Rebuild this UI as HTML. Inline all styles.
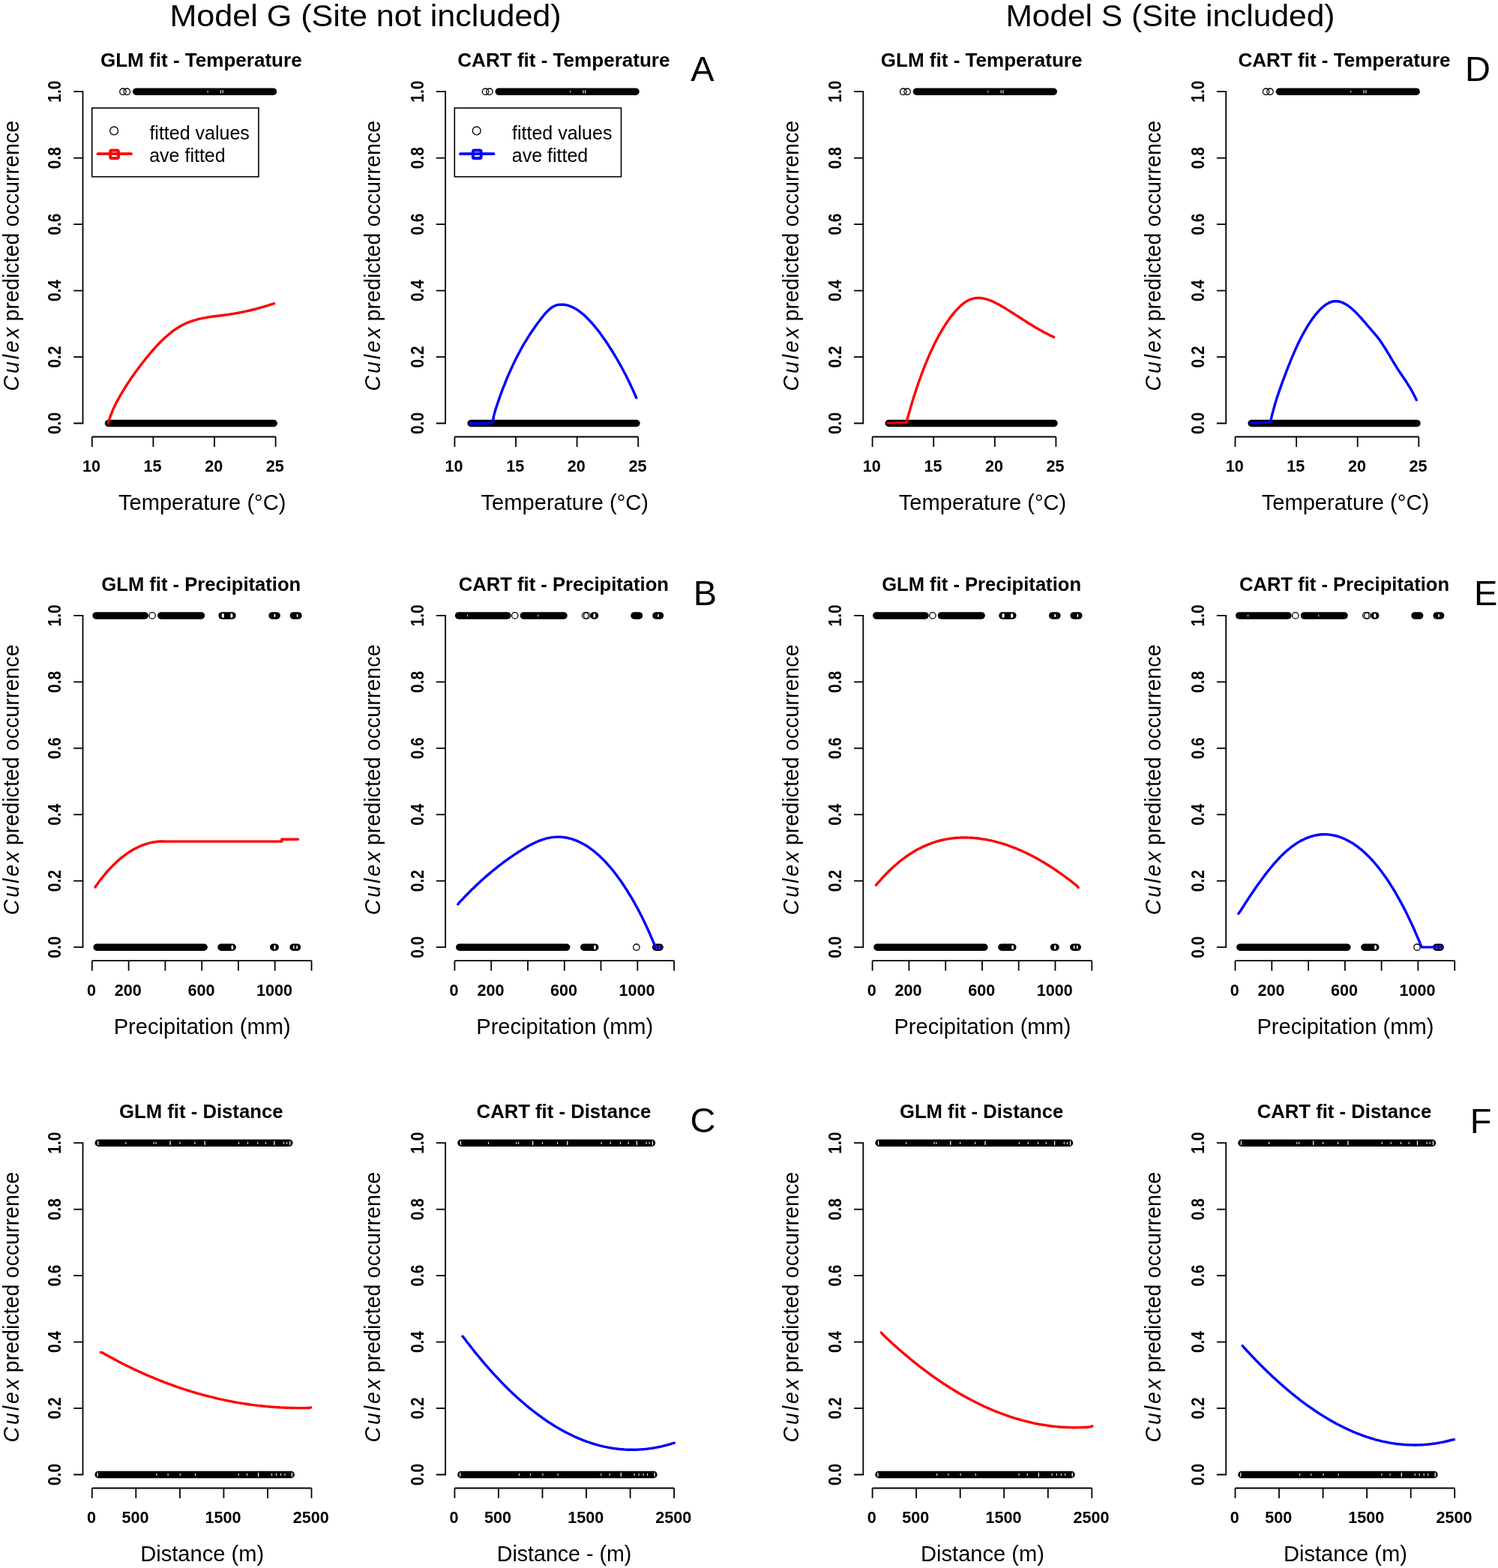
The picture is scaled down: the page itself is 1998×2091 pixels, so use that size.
<!DOCTYPE html>
<html><head><meta charset="utf-8"><title>Model G vs Model S</title>
<style>html,body{margin:0;padding:0;background:#fff;width:1998px;height:2091px;overflow:hidden}</style>
</head><body>
<svg width="1998" height="2091" viewBox="0 0 1998 2091" style="display:block">
<rect width="1998" height="2091" fill="#fff"/>
<text x="226.4" y="35.2" font-family='"Liberation Sans", sans-serif' font-size="41" textLength="522.3" lengthAdjust="spacingAndGlyphs">Model G (Site not included)</text>
<text x="1341.4" y="35.2" font-family='"Liberation Sans", sans-serif' font-size="41" textLength="439" lengthAdjust="spacingAndGlyphs">Model S (Site included)</text>
<text x="921.3" y="108.2" font-family='"Liberation Sans", sans-serif' font-size="47">A</text>
<text x="924.8" y="807.2" font-family='"Liberation Sans", sans-serif' font-size="47">B</text>
<text x="920.4" y="1509.8" font-family='"Liberation Sans", sans-serif' font-size="47">C</text>
<text x="1954.1" y="108.2" font-family='"Liberation Sans", sans-serif' font-size="47">D</text>
<text x="1966" y="807.3" font-family='"Liberation Sans", sans-serif' font-size="47">E</text>
<text x="1960.7" y="1510.5" font-family='"Liberation Sans", sans-serif' font-size="47">F</text>
<g font-family='"Liberation Sans", sans-serif' fill="#000"><text x="268.3" y="89.4" text-anchor="middle" font-weight="bold" font-size="26.05">GLM fit - Temperature</text><path d="M98.2,122.2 H110.5 V564.5 H98.2" fill="none" stroke="#000" stroke-width="1.8"/><path d="M98.2,210.7 H110.5" stroke="#000" stroke-width="1.8"/><path d="M98.2,299.1 H110.5" stroke="#000" stroke-width="1.8"/><path d="M98.2,387.6 H110.5" stroke="#000" stroke-width="1.8"/><path d="M98.2,476.0 H110.5" stroke="#000" stroke-width="1.8"/><text transform="translate(80.9,564.5) rotate(-90) scale(1,1.16)" text-anchor="middle" font-weight="bold" font-size="20.9">0.0</text><text transform="translate(80.9,476.0) rotate(-90) scale(1,1.16)" text-anchor="middle" font-weight="bold" font-size="20.9">0.2</text><text transform="translate(80.9,387.6) rotate(-90) scale(1,1.16)" text-anchor="middle" font-weight="bold" font-size="20.9">0.4</text><text transform="translate(80.9,299.1) rotate(-90) scale(1,1.16)" text-anchor="middle" font-weight="bold" font-size="20.9">0.6</text><text transform="translate(80.9,210.7) rotate(-90) scale(1,1.16)" text-anchor="middle" font-weight="bold" font-size="20.9">0.8</text><text transform="translate(80.9,122.2) rotate(-90) scale(1,1.16)" text-anchor="middle" font-weight="bold" font-size="20.9">1.0</text><text transform="translate(24.6,521.6) rotate(-90)" font-size="28.6" font-style="italic" textLength="84.8" lengthAdjust="spacing">Culex</text><text transform="translate(24.6,428.5) rotate(-90)" font-size="28.6" textLength="267.8" lengthAdjust="spacingAndGlyphs">predicted occurrence</text><path d="M122.8,582.5 H367.6" stroke="#000" stroke-width="1.8" fill="none"/><path d="M122.8,582.5 V595.9" stroke="#000" stroke-width="1.8"/><text x="122.0" y="629.1" text-anchor="middle" font-weight="bold" font-size="21.6">10</text><path d="M204.4,582.5 V595.9" stroke="#000" stroke-width="1.8"/><text x="203.6" y="629.1" text-anchor="middle" font-weight="bold" font-size="21.6">15</text><path d="M286.0,582.5 V595.9" stroke="#000" stroke-width="1.8"/><text x="285.2" y="629.1" text-anchor="middle" font-weight="bold" font-size="21.6">20</text><path d="M367.6,582.5 V595.9" stroke="#000" stroke-width="1.8"/><text x="366.8" y="629.1" text-anchor="middle" font-weight="bold" font-size="21.6">25</text><text x="269.7" y="680.3" text-anchor="middle" font-size="29.1">Temperature (°C)</text><path d="M181.7,122.2 H364.4" stroke="#000" stroke-width="9.5" stroke-linecap="round"/><circle cx="163.9" cy="122.2" r="4.2" fill="none" stroke="#000" stroke-width="1.3"/><circle cx="169.3" cy="122.2" r="4.2" fill="none" stroke="#000" stroke-width="1.3"/><ellipse cx="277.1" cy="122.2" rx="0.5" ry="1.6" fill="#fff"/><ellipse cx="294.4" cy="122.2" rx="0.6" ry="2.8" fill="#fff"/><ellipse cx="297.2" cy="122.2" rx="0.6" ry="2.8" fill="#fff"/><path d="M144.6,564.5 H365.2" stroke="#000" stroke-width="9.5" stroke-linecap="round"/><path d="M144.4,564.3 L146.4,557.1 L148.5,551.8 L150.5,546.9 L152.5,542.4 L154.5,538.3 L156.6,534.4 L158.6,530.7 L160.6,527.1 L162.7,523.6 L164.7,520.3 L166.7,517.0 L168.8,513.8 L170.8,510.7 L172.8,507.6 L174.8,504.6 L176.9,501.7 L178.9,498.8 L180.9,496.0 L183.0,493.3 L185.0,490.5 L187.0,487.8 L189.0,485.2 L191.1,482.5 L193.1,480.0 L195.1,477.4 L197.2,474.9 L199.2,472.5 L201.2,470.1 L203.3,467.7 L205.3,465.4 L207.3,463.1 L209.3,460.9 L211.4,458.8 L213.4,456.7 L215.4,454.7 L217.5,452.7 L219.5,450.8 L221.5,449.0 L223.5,447.2 L225.6,445.5 L227.6,443.8 L229.6,442.2 L231.7,440.7 L233.7,439.3 L235.7,438.0 L237.8,436.7 L239.8,435.5 L241.8,434.3 L243.8,433.3 L245.9,432.3 L247.9,431.3 L249.9,430.4 L252.0,429.6 L254.0,428.8 L256.0,428.1 L258.0,427.5 L260.1,426.8 L262.1,426.3 L264.1,425.7 L266.2,425.2 L268.2,424.8 L270.2,424.3 L272.2,423.9 L274.3,423.6 L276.3,423.2 L278.3,422.9 L280.4,422.6 L282.4,422.3 L284.4,422.0 L286.5,421.7 L288.5,421.5 L290.5,421.2 L292.5,421.0 L294.6,420.7 L296.6,420.5 L298.6,420.2 L300.7,419.9 L302.7,419.7 L304.7,419.4 L306.7,419.1 L308.8,418.8 L310.8,418.4 L312.8,418.1 L314.9,417.7 L316.9,417.4 L318.9,417.0 L321.0,416.6 L323.0,416.2 L325.0,415.8 L327.0,415.4 L329.1,414.9 L331.1,414.5 L333.1,414.0 L335.2,413.5 L337.2,413.0 L339.2,412.5 L341.2,412.0 L343.3,411.4 L345.3,410.9 L347.3,410.3 L349.4,409.7 L351.4,409.2 L353.4,408.5 L355.5,407.9 L357.5,407.3 L359.5,406.6 L361.5,406.0 L363.6,405.3 L365.6,404.8" fill="none" stroke="#ff0000" stroke-width="3.4" stroke-linejoin="round" stroke-linecap="round"/><rect x="122.7" y="144" width="222.2" height="91.7" fill="none" stroke="#000" stroke-width="1.6"/><circle cx="152.1" cy="174.4" r="5.4" fill="none" stroke="#000" stroke-width="1.3"/><path d="M130.5,205.2 H174.9" stroke="#ff0000" stroke-width="3.8" stroke-linecap="round"/><rect x="147.2" y="200.40" width="10.7" height="10.7" rx="1.5" fill="none" stroke="#ff0000" stroke-width="4"/><text x="199.4" y="185.5" font-size="25">fitted values</text><text x="199.2" y="215.6" font-size="25">ave fitted</text></g>
<g font-family='"Liberation Sans", sans-serif' fill="#000"><text x="751.9" y="89.4" text-anchor="middle" font-weight="bold" font-size="26.05">CART fit - Temperature</text><path d="M581.8,122.2 H594.1 V564.5 H581.8" fill="none" stroke="#000" stroke-width="1.8"/><path d="M581.8,210.7 H594.1" stroke="#000" stroke-width="1.8"/><path d="M581.8,299.1 H594.1" stroke="#000" stroke-width="1.8"/><path d="M581.8,387.6 H594.1" stroke="#000" stroke-width="1.8"/><path d="M581.8,476.0 H594.1" stroke="#000" stroke-width="1.8"/><text transform="translate(564.5,564.5) rotate(-90) scale(1,1.16)" text-anchor="middle" font-weight="bold" font-size="20.9">0.0</text><text transform="translate(564.5,476.0) rotate(-90) scale(1,1.16)" text-anchor="middle" font-weight="bold" font-size="20.9">0.2</text><text transform="translate(564.5,387.6) rotate(-90) scale(1,1.16)" text-anchor="middle" font-weight="bold" font-size="20.9">0.4</text><text transform="translate(564.5,299.1) rotate(-90) scale(1,1.16)" text-anchor="middle" font-weight="bold" font-size="20.9">0.6</text><text transform="translate(564.5,210.7) rotate(-90) scale(1,1.16)" text-anchor="middle" font-weight="bold" font-size="20.9">0.8</text><text transform="translate(564.5,122.2) rotate(-90) scale(1,1.16)" text-anchor="middle" font-weight="bold" font-size="20.9">1.0</text><text transform="translate(506.6,521.6) rotate(-90)" font-size="28.6" font-style="italic" textLength="84.8" lengthAdjust="spacing">Culex</text><text transform="translate(506.6,428.5) rotate(-90)" font-size="28.6" textLength="267.8" lengthAdjust="spacingAndGlyphs">predicted occurrence</text><path d="M606.4,582.5 H851.2" stroke="#000" stroke-width="1.8" fill="none"/><path d="M606.4,582.5 V595.9" stroke="#000" stroke-width="1.8"/><text x="605.6" y="629.1" text-anchor="middle" font-weight="bold" font-size="21.6">10</text><path d="M688.0,582.5 V595.9" stroke="#000" stroke-width="1.8"/><text x="687.2" y="629.1" text-anchor="middle" font-weight="bold" font-size="21.6">15</text><path d="M769.6,582.5 V595.9" stroke="#000" stroke-width="1.8"/><text x="768.8" y="629.1" text-anchor="middle" font-weight="bold" font-size="21.6">20</text><path d="M851.2,582.5 V595.9" stroke="#000" stroke-width="1.8"/><text x="850.4" y="629.1" text-anchor="middle" font-weight="bold" font-size="21.6">25</text><text x="753.3" y="680.3" text-anchor="middle" font-size="29.1">Temperature (°C)</text><path d="M665.2,122.2 H848.0" stroke="#000" stroke-width="9.5" stroke-linecap="round"/><circle cx="647.5" cy="122.2" r="4.2" fill="none" stroke="#000" stroke-width="1.3"/><circle cx="652.9" cy="122.2" r="4.2" fill="none" stroke="#000" stroke-width="1.3"/><ellipse cx="760.7" cy="122.2" rx="0.5" ry="1.6" fill="#fff"/><ellipse cx="778.0" cy="122.2" rx="0.6" ry="2.8" fill="#fff"/><ellipse cx="780.8" cy="122.2" rx="0.6" ry="2.8" fill="#fff"/><path d="M628.1,564.5 H848.9" stroke="#000" stroke-width="9.5" stroke-linecap="round"/><path d="M627.6,564.8 L656.7,564.3 L658.7,554.4 L660.7,546.9 L662.8,540.6 L664.8,534.6 L666.8,528.8 L668.8,523.3 L670.8,517.9 L672.9,512.8 L674.9,507.7 L676.9,502.9 L678.9,498.2 L681.0,493.6 L683.0,489.2 L685.0,484.9 L687.0,480.7 L689.0,476.7 L691.1,472.8 L693.1,469.0 L695.1,465.3 L697.1,461.7 L699.1,458.2 L701.2,454.8 L703.2,451.6 L705.2,448.3 L707.2,445.2 L709.2,442.2 L711.3,439.2 L713.3,436.3 L715.3,433.5 L717.3,430.7 L719.4,428.0 L721.4,425.3 L723.4,422.7 L725.4,420.2 L727.4,417.9 L729.5,415.7 L731.5,413.7 L733.5,411.9 L735.5,410.3 L737.5,409.0 L739.6,408.0 L741.6,407.2 L743.6,406.7 L745.6,406.3 L747.6,406.2 L749.7,406.1 L751.7,406.3 L753.7,406.5 L755.7,406.9 L757.8,407.4 L759.8,408.1 L761.8,408.9 L763.8,409.8 L765.8,410.8 L767.9,411.9 L769.9,413.2 L771.9,414.6 L773.9,416.0 L775.9,417.6 L778.0,419.3 L780.0,421.1 L782.0,423.0 L784.0,425.0 L786.0,427.1 L788.1,429.3 L790.1,431.5 L792.1,433.9 L794.1,436.3 L796.2,438.8 L798.2,441.4 L800.2,444.1 L802.2,446.9 L804.2,449.7 L806.3,452.6 L808.3,455.5 L810.3,458.5 L812.3,461.6 L814.3,464.8 L816.4,468.0 L818.4,471.3 L820.4,474.6 L822.4,478.0 L824.4,481.5 L826.5,485.1 L828.5,488.8 L830.5,492.5 L832.5,496.3 L834.6,500.2 L836.6,504.2 L838.6,508.3 L840.6,512.5 L842.6,516.8 L844.7,521.2 L846.7,525.7 L848.7,530.5" fill="none" stroke="#0000ff" stroke-width="3.4" stroke-linejoin="round" stroke-linecap="round"/><rect x="606.3" y="144" width="222.2" height="91.7" fill="none" stroke="#000" stroke-width="1.6"/><circle cx="635.7" cy="174.4" r="5.4" fill="none" stroke="#000" stroke-width="1.3"/><path d="M614.1,205.2 H658.5" stroke="#0000ff" stroke-width="3.8" stroke-linecap="round"/><rect x="630.9" y="200.40" width="10.7" height="10.7" rx="1.5" fill="none" stroke="#0000ff" stroke-width="4"/><text x="683.0" y="185.5" font-size="25">fitted values</text><text x="682.8" y="215.6" font-size="25">ave fitted</text></g>
<g font-family='"Liberation Sans", sans-serif' fill="#000"><text x="1309.1" y="89.4" text-anchor="middle" font-weight="bold" font-size="26.05">GLM fit - Temperature</text><path d="M1139.0,122.2 H1151.3 V564.5 H1139.0" fill="none" stroke="#000" stroke-width="1.8"/><path d="M1139.0,210.7 H1151.3" stroke="#000" stroke-width="1.8"/><path d="M1139.0,299.1 H1151.3" stroke="#000" stroke-width="1.8"/><path d="M1139.0,387.6 H1151.3" stroke="#000" stroke-width="1.8"/><path d="M1139.0,476.0 H1151.3" stroke="#000" stroke-width="1.8"/><text transform="translate(1121.7,564.5) rotate(-90) scale(1,1.16)" text-anchor="middle" font-weight="bold" font-size="20.9">0.0</text><text transform="translate(1121.7,476.0) rotate(-90) scale(1,1.16)" text-anchor="middle" font-weight="bold" font-size="20.9">0.2</text><text transform="translate(1121.7,387.6) rotate(-90) scale(1,1.16)" text-anchor="middle" font-weight="bold" font-size="20.9">0.4</text><text transform="translate(1121.7,299.1) rotate(-90) scale(1,1.16)" text-anchor="middle" font-weight="bold" font-size="20.9">0.6</text><text transform="translate(1121.7,210.7) rotate(-90) scale(1,1.16)" text-anchor="middle" font-weight="bold" font-size="20.9">0.8</text><text transform="translate(1121.7,122.2) rotate(-90) scale(1,1.16)" text-anchor="middle" font-weight="bold" font-size="20.9">1.0</text><text transform="translate(1064.7,521.6) rotate(-90)" font-size="28.6" font-style="italic" textLength="84.8" lengthAdjust="spacing">Culex</text><text transform="translate(1064.7,428.5) rotate(-90)" font-size="28.6" textLength="267.8" lengthAdjust="spacingAndGlyphs">predicted occurrence</text><path d="M1163.6,582.5 H1408.4" stroke="#000" stroke-width="1.8" fill="none"/><path d="M1163.6,582.5 V595.9" stroke="#000" stroke-width="1.8"/><text x="1162.8" y="629.1" text-anchor="middle" font-weight="bold" font-size="21.6">10</text><path d="M1245.2,582.5 V595.9" stroke="#000" stroke-width="1.8"/><text x="1244.4" y="629.1" text-anchor="middle" font-weight="bold" font-size="21.6">15</text><path d="M1326.8,582.5 V595.9" stroke="#000" stroke-width="1.8"/><text x="1326.0" y="629.1" text-anchor="middle" font-weight="bold" font-size="21.6">20</text><path d="M1408.4,582.5 V595.9" stroke="#000" stroke-width="1.8"/><text x="1407.6" y="629.1" text-anchor="middle" font-weight="bold" font-size="21.6">25</text><text x="1310.5" y="680.3" text-anchor="middle" font-size="29.1">Temperature (°C)</text><path d="M1222.5,122.2 H1405.2" stroke="#000" stroke-width="9.5" stroke-linecap="round"/><circle cx="1204.7" cy="122.2" r="4.2" fill="none" stroke="#000" stroke-width="1.3"/><circle cx="1210.1" cy="122.2" r="4.2" fill="none" stroke="#000" stroke-width="1.3"/><ellipse cx="1317.9" cy="122.2" rx="0.5" ry="1.6" fill="#fff"/><ellipse cx="1335.2" cy="122.2" rx="0.6" ry="2.8" fill="#fff"/><ellipse cx="1338.0" cy="122.2" rx="0.6" ry="2.8" fill="#fff"/><path d="M1185.3,564.5 H1406.0" stroke="#000" stroke-width="9.5" stroke-linecap="round"/><path d="M1184.9,564.1 L1208.8,563.5 L1210.8,556.5 L1212.9,549.3 L1214.9,542.3 L1216.9,535.5 L1218.9,529.0 L1221.0,522.6 L1223.0,516.5 L1225.0,510.5 L1227.1,504.8 L1229.1,499.2 L1231.1,493.8 L1233.1,488.6 L1235.2,483.6 L1237.2,478.8 L1239.2,474.1 L1241.3,469.5 L1243.3,465.2 L1245.3,460.9 L1247.3,456.8 L1249.4,452.9 L1251.4,449.0 L1253.4,445.4 L1255.5,441.8 L1257.5,438.4 L1259.5,435.1 L1261.6,431.9 L1263.6,428.9 L1265.6,426.0 L1267.6,423.3 L1269.7,420.6 L1271.7,418.1 L1273.7,415.7 L1275.8,413.4 L1277.8,411.3 L1279.8,409.2 L1281.8,407.3 L1283.9,405.6 L1285.9,404.0 L1287.9,402.6 L1290.0,401.3 L1292.0,400.3 L1294.0,399.4 L1296.0,398.7 L1298.1,398.1 L1300.1,397.7 L1302.1,397.5 L1304.2,397.3 L1306.2,397.4 L1308.2,397.5 L1310.2,397.8 L1312.3,398.1 L1314.3,398.6 L1316.3,399.2 L1318.4,399.8 L1320.4,400.6 L1322.4,401.4 L1324.4,402.2 L1326.5,403.2 L1328.5,404.2 L1330.5,405.2 L1332.6,406.3 L1334.6,407.5 L1336.6,408.7 L1338.6,409.9 L1340.7,411.1 L1342.7,412.4 L1344.7,413.6 L1346.8,414.9 L1348.8,416.2 L1350.8,417.5 L1352.8,418.8 L1354.9,420.1 L1356.9,421.4 L1358.9,422.7 L1361.0,424.0 L1363.0,425.3 L1365.0,426.6 L1367.1,427.9 L1369.1,429.2 L1371.1,430.5 L1373.1,431.7 L1375.2,433.0 L1377.2,434.2 L1379.2,435.5 L1381.3,436.7 L1383.3,437.9 L1385.3,439.1 L1387.3,440.2 L1389.4,441.3 L1391.4,442.5 L1393.4,443.5 L1395.5,444.6 L1397.5,445.6 L1399.5,446.7 L1401.5,447.6 L1403.6,448.6 L1405.6,449.5" fill="none" stroke="#ff0000" stroke-width="3.4" stroke-linejoin="round" stroke-linecap="round"/></g>
<g font-family='"Liberation Sans", sans-serif' fill="#000"><text x="1793.0" y="89.4" text-anchor="middle" font-weight="bold" font-size="26.05">CART fit - Temperature</text><path d="M1622.9,122.2 H1635.2 V564.5 H1622.9" fill="none" stroke="#000" stroke-width="1.8"/><path d="M1622.9,210.7 H1635.2" stroke="#000" stroke-width="1.8"/><path d="M1622.9,299.1 H1635.2" stroke="#000" stroke-width="1.8"/><path d="M1622.9,387.6 H1635.2" stroke="#000" stroke-width="1.8"/><path d="M1622.9,476.0 H1635.2" stroke="#000" stroke-width="1.8"/><text transform="translate(1605.6,564.5) rotate(-90) scale(1,1.16)" text-anchor="middle" font-weight="bold" font-size="20.9">0.0</text><text transform="translate(1605.6,476.0) rotate(-90) scale(1,1.16)" text-anchor="middle" font-weight="bold" font-size="20.9">0.2</text><text transform="translate(1605.6,387.6) rotate(-90) scale(1,1.16)" text-anchor="middle" font-weight="bold" font-size="20.9">0.4</text><text transform="translate(1605.6,299.1) rotate(-90) scale(1,1.16)" text-anchor="middle" font-weight="bold" font-size="20.9">0.6</text><text transform="translate(1605.6,210.7) rotate(-90) scale(1,1.16)" text-anchor="middle" font-weight="bold" font-size="20.9">0.8</text><text transform="translate(1605.6,122.2) rotate(-90) scale(1,1.16)" text-anchor="middle" font-weight="bold" font-size="20.9">1.0</text><text transform="translate(1547.5,521.6) rotate(-90)" font-size="28.6" font-style="italic" textLength="84.8" lengthAdjust="spacing">Culex</text><text transform="translate(1547.5,428.5) rotate(-90)" font-size="28.6" textLength="267.8" lengthAdjust="spacingAndGlyphs">predicted occurrence</text><path d="M1647.5,582.5 H1892.3" stroke="#000" stroke-width="1.8" fill="none"/><path d="M1647.5,582.5 V595.9" stroke="#000" stroke-width="1.8"/><text x="1646.7" y="629.1" text-anchor="middle" font-weight="bold" font-size="21.6">10</text><path d="M1729.1,582.5 V595.9" stroke="#000" stroke-width="1.8"/><text x="1728.3" y="629.1" text-anchor="middle" font-weight="bold" font-size="21.6">15</text><path d="M1810.7,582.5 V595.9" stroke="#000" stroke-width="1.8"/><text x="1809.9" y="629.1" text-anchor="middle" font-weight="bold" font-size="21.6">20</text><path d="M1892.3,582.5 V595.9" stroke="#000" stroke-width="1.8"/><text x="1891.5" y="629.1" text-anchor="middle" font-weight="bold" font-size="21.6">25</text><text x="1794.4" y="680.3" text-anchor="middle" font-size="29.1">Temperature (°C)</text><path d="M1706.4,122.2 H1889.1" stroke="#000" stroke-width="9.5" stroke-linecap="round"/><circle cx="1688.6" cy="122.2" r="4.2" fill="none" stroke="#000" stroke-width="1.3"/><circle cx="1694.0" cy="122.2" r="4.2" fill="none" stroke="#000" stroke-width="1.3"/><ellipse cx="1801.8" cy="122.2" rx="0.5" ry="1.6" fill="#fff"/><ellipse cx="1819.1" cy="122.2" rx="0.6" ry="2.8" fill="#fff"/><ellipse cx="1821.9" cy="122.2" rx="0.6" ry="2.8" fill="#fff"/><path d="M1669.2,564.5 H1890.0" stroke="#000" stroke-width="9.5" stroke-linecap="round"/><path d="M1668.7,564.1 L1694.4,562.9 L1696.4,554.3 L1698.5,546.4 L1700.5,539.2 L1702.5,532.5 L1704.6,526.3 L1706.6,520.4 L1708.6,514.7 L1710.6,509.1 L1712.7,503.6 L1714.7,498.2 L1716.7,492.9 L1718.8,487.7 L1720.8,482.7 L1722.8,477.7 L1724.9,472.9 L1726.9,468.2 L1728.9,463.7 L1730.9,459.3 L1733.0,455.1 L1735.0,451.0 L1737.0,447.1 L1739.1,443.4 L1741.1,439.8 L1743.1,436.3 L1745.2,433.0 L1747.2,429.9 L1749.2,426.9 L1751.2,424.1 L1753.3,421.4 L1755.3,418.9 L1757.3,416.5 L1759.4,414.2 L1761.4,412.1 L1763.4,410.2 L1765.5,408.5 L1767.5,406.9 L1769.5,405.5 L1771.5,404.4 L1773.6,403.4 L1775.6,402.6 L1777.6,402.0 L1779.7,401.7 L1781.7,401.6 L1783.7,401.7 L1785.8,402.0 L1787.8,402.5 L1789.8,403.2 L1791.8,404.1 L1793.9,405.1 L1795.9,406.3 L1797.9,407.7 L1800.0,409.2 L1802.0,410.8 L1804.0,412.5 L1806.1,414.4 L1808.1,416.4 L1810.1,418.4 L1812.2,420.6 L1814.2,422.8 L1816.2,425.0 L1818.2,427.4 L1820.3,429.7 L1822.3,432.1 L1824.3,434.5 L1826.4,436.9 L1828.4,439.2 L1830.4,441.6 L1832.5,443.9 L1834.5,446.3 L1836.5,448.7 L1838.5,451.3 L1840.6,454.1 L1842.6,457.0 L1844.6,460.1 L1846.7,463.2 L1848.7,466.5 L1850.7,469.8 L1852.8,473.2 L1854.8,476.6 L1856.8,480.0 L1858.8,483.4 L1860.9,486.7 L1862.9,490.0 L1864.9,493.1 L1867.0,496.2 L1869.0,499.2 L1871.0,502.2 L1873.1,505.2 L1875.1,508.2 L1877.1,511.3 L1879.1,514.6 L1881.2,517.9 L1883.2,521.5 L1885.2,525.2 L1887.3,529.2 L1889.3,533.4" fill="none" stroke="#0000ff" stroke-width="3.4" stroke-linejoin="round" stroke-linecap="round"/></g>
<g font-family='"Liberation Sans", sans-serif' fill="#000"><text x="268.3" y="788.1" text-anchor="middle" font-weight="bold" font-size="25.6">GLM fit - Precipitation</text><path d="M98.2,820.9 H110.5 V1263.2 H98.2" fill="none" stroke="#000" stroke-width="1.8"/><path d="M98.2,909.4 H110.5" stroke="#000" stroke-width="1.8"/><path d="M98.2,997.8 H110.5" stroke="#000" stroke-width="1.8"/><path d="M98.2,1086.3 H110.5" stroke="#000" stroke-width="1.8"/><path d="M98.2,1174.7 H110.5" stroke="#000" stroke-width="1.8"/><text transform="translate(80.9,1263.2) rotate(-90) scale(1,1.16)" text-anchor="middle" font-weight="bold" font-size="20.9">0.0</text><text transform="translate(80.9,1174.7) rotate(-90) scale(1,1.16)" text-anchor="middle" font-weight="bold" font-size="20.9">0.2</text><text transform="translate(80.9,1086.3) rotate(-90) scale(1,1.16)" text-anchor="middle" font-weight="bold" font-size="20.9">0.4</text><text transform="translate(80.9,997.8) rotate(-90) scale(1,1.16)" text-anchor="middle" font-weight="bold" font-size="20.9">0.6</text><text transform="translate(80.9,909.4) rotate(-90) scale(1,1.16)" text-anchor="middle" font-weight="bold" font-size="20.9">0.8</text><text transform="translate(80.9,820.9) rotate(-90) scale(1,1.16)" text-anchor="middle" font-weight="bold" font-size="20.9">1.0</text><text transform="translate(24.6,1220.3) rotate(-90)" font-size="28.6" font-style="italic" textLength="84.8" lengthAdjust="spacing">Culex</text><text transform="translate(24.6,1127.2) rotate(-90)" font-size="28.6" textLength="267.8" lengthAdjust="spacingAndGlyphs">predicted occurrence</text><path d="M122.8,1281.2 H415.5" stroke="#000" stroke-width="1.8" fill="none"/><path d="M122.8,1281.2 V1294.6" stroke="#000" stroke-width="1.8"/><text x="122.0" y="1327.8" text-anchor="middle" font-weight="bold" font-size="21.6">0</text><path d="M171.6,1281.2 V1294.6" stroke="#000" stroke-width="1.8"/><text x="170.8" y="1327.8" text-anchor="middle" font-weight="bold" font-size="21.6">200</text><path d="M220.4,1281.2 V1294.6" stroke="#000" stroke-width="1.8"/><path d="M269.2,1281.2 V1294.6" stroke="#000" stroke-width="1.8"/><text x="268.4" y="1327.8" text-anchor="middle" font-weight="bold" font-size="21.6">600</text><path d="M317.9,1281.2 V1294.6" stroke="#000" stroke-width="1.8"/><path d="M366.7,1281.2 V1294.6" stroke="#000" stroke-width="1.8"/><text x="365.9" y="1327.8" text-anchor="middle" font-weight="bold" font-size="21.6">1000</text><path d="M415.5,1281.2 V1294.6" stroke="#000" stroke-width="1.8"/><text x="269.7" y="1379.0" text-anchor="middle" font-size="29.1">Precipitation (mm)</text><path d="M128.1,820.9 H193.2" stroke="#000" stroke-width="9.5" stroke-linecap="round"/><circle cx="203.1" cy="820.9" r="4.2" fill="none" stroke="#000" stroke-width="1.3"/><path d="M214.8,820.9 H268.4" stroke="#000" stroke-width="9.5" stroke-linecap="round"/><path d="M296.1,820.9 H309.9" stroke="#000" stroke-width="9.5" stroke-linecap="round"/><ellipse cx="297.3" cy="820.9" rx="1.6" ry="3.0" fill="#fff"/><ellipse cx="308.9" cy="820.9" rx="1.6" ry="3.0" fill="#fff"/><path d="M363.1,820.9 H369.1" stroke="#000" stroke-width="9.5" stroke-linecap="round"/><ellipse cx="366.4" cy="820.9" rx="1.0" ry="2.3" fill="#fff"/><path d="M391.4,820.9 H397.9" stroke="#000" stroke-width="9.5" stroke-linecap="round"/><ellipse cx="396.6" cy="820.9" rx="0.9" ry="2.2" fill="#fff"/><path d="M129.2,1263.2 H272.1" stroke="#000" stroke-width="9.5" stroke-linecap="round"/><path d="M295.1,1263.2 H310.1" stroke="#000" stroke-width="9.5" stroke-linecap="round"/><ellipse cx="309.8" cy="1263.2" rx="1.4" ry="3.0" fill="#fff"/><path d="M364.8,1263.2 H367.2" stroke="#000" stroke-width="9.5" stroke-linecap="round"/><ellipse cx="366.4" cy="1263.2" rx="1.2" ry="3.0" fill="#fff"/><path d="M391.1,1263.2 H396.4" stroke="#000" stroke-width="9.5" stroke-linecap="round"/><ellipse cx="391.8" cy="1263.2" rx="0.8" ry="2.6" fill="#fff"/><ellipse cx="396.1" cy="1263.2" rx="0.9" ry="2.6" fill="#fff"/><path d="M127.0,1183.0 L129.1,1179.9 L131.2,1177.1 L133.2,1174.3 L135.3,1171.6 L137.4,1169.0 L139.5,1166.5 L141.5,1164.0 L143.6,1161.7 L145.7,1159.4 L147.8,1157.1 L149.9,1155.0 L151.9,1152.9 L154.0,1150.9 L156.1,1149.0 L158.2,1147.1 L160.2,1145.3 L162.3,1143.6 L164.4,1142.0 L166.5,1140.4 L168.6,1138.9 L170.6,1137.4 L172.7,1136.0 L174.8,1134.7 L176.9,1133.5 L178.9,1132.3 L181.0,1131.2 L183.1,1130.2 L185.2,1129.2 L187.3,1128.3 L189.3,1127.4 L191.4,1126.6 L193.5,1125.9 L195.6,1125.3 L197.6,1124.7 L199.7,1124.1 L201.8,1123.6 L203.9,1123.2 L206.0,1122.9 L208.0,1122.6 L210.1,1122.3 L212.2,1122.2 L214.3,1122.0 L216.3,1122.0 L218.4,1122.0 L220.5,1122.1 L375.8,1122.1 L375.8,1119.3 L397.5,1119.3" fill="none" stroke="#ff0000" stroke-width="3.4" stroke-linejoin="round" stroke-linecap="round"/></g>
<g font-family='"Liberation Sans", sans-serif' fill="#000"><text x="751.9" y="788.1" text-anchor="middle" font-weight="bold" font-size="25.6">CART fit - Precipitation</text><path d="M581.8,820.9 H594.1 V1263.2 H581.8" fill="none" stroke="#000" stroke-width="1.8"/><path d="M581.8,909.4 H594.1" stroke="#000" stroke-width="1.8"/><path d="M581.8,997.8 H594.1" stroke="#000" stroke-width="1.8"/><path d="M581.8,1086.3 H594.1" stroke="#000" stroke-width="1.8"/><path d="M581.8,1174.7 H594.1" stroke="#000" stroke-width="1.8"/><text transform="translate(564.5,1263.2) rotate(-90) scale(1,1.16)" text-anchor="middle" font-weight="bold" font-size="20.9">0.0</text><text transform="translate(564.5,1174.7) rotate(-90) scale(1,1.16)" text-anchor="middle" font-weight="bold" font-size="20.9">0.2</text><text transform="translate(564.5,1086.3) rotate(-90) scale(1,1.16)" text-anchor="middle" font-weight="bold" font-size="20.9">0.4</text><text transform="translate(564.5,997.8) rotate(-90) scale(1,1.16)" text-anchor="middle" font-weight="bold" font-size="20.9">0.6</text><text transform="translate(564.5,909.4) rotate(-90) scale(1,1.16)" text-anchor="middle" font-weight="bold" font-size="20.9">0.8</text><text transform="translate(564.5,820.9) rotate(-90) scale(1,1.16)" text-anchor="middle" font-weight="bold" font-size="20.9">1.0</text><text transform="translate(506.6,1220.3) rotate(-90)" font-size="28.6" font-style="italic" textLength="84.8" lengthAdjust="spacing">Culex</text><text transform="translate(506.6,1127.2) rotate(-90)" font-size="28.6" textLength="267.8" lengthAdjust="spacingAndGlyphs">predicted occurrence</text><path d="M606.4,1281.2 H899.1" stroke="#000" stroke-width="1.8" fill="none"/><path d="M606.4,1281.2 V1294.6" stroke="#000" stroke-width="1.8"/><text x="605.6" y="1327.8" text-anchor="middle" font-weight="bold" font-size="21.6">0</text><path d="M655.2,1281.2 V1294.6" stroke="#000" stroke-width="1.8"/><text x="654.4" y="1327.8" text-anchor="middle" font-weight="bold" font-size="21.6">200</text><path d="M704.0,1281.2 V1294.6" stroke="#000" stroke-width="1.8"/><path d="M752.8,1281.2 V1294.6" stroke="#000" stroke-width="1.8"/><text x="752.0" y="1327.8" text-anchor="middle" font-weight="bold" font-size="21.6">600</text><path d="M801.5,1281.2 V1294.6" stroke="#000" stroke-width="1.8"/><path d="M850.3,1281.2 V1294.6" stroke="#000" stroke-width="1.8"/><text x="849.5" y="1327.8" text-anchor="middle" font-weight="bold" font-size="21.6">1000</text><path d="M899.1,1281.2 V1294.6" stroke="#000" stroke-width="1.8"/><text x="753.3" y="1379.0" text-anchor="middle" font-size="29.1">Precipitation (mm)</text><path d="M611.6,820.9 H676.8" stroke="#000" stroke-width="9.5" stroke-linecap="round"/><ellipse cx="623.5" cy="820.9" rx="0.5" ry="1.6" fill="#fff"/><circle cx="686.7" cy="820.9" r="4.2" fill="none" stroke="#000" stroke-width="1.3"/><path d="M698.4,820.9 H752.0" stroke="#000" stroke-width="9.5" stroke-linecap="round"/><ellipse cx="717.8" cy="820.9" rx="0.5" ry="1.6" fill="#fff"/><circle cx="780.7" cy="820.9" r="4.2" fill="none" stroke="#000" stroke-width="1.3"/><circle cx="782.8" cy="820.9" r="4.2" fill="none" stroke="#000" stroke-width="1.3"/><path d="M792.0,820.9 H793.5" stroke="#000" stroke-width="9.5" stroke-linecap="round"/><ellipse cx="792.7" cy="820.9" rx="1.5" ry="3.0" fill="#fff"/><path d="M846.0,820.9 H852.5" stroke="#000" stroke-width="9.5" stroke-linecap="round"/><path d="M875.0,820.9 H880.5" stroke="#000" stroke-width="9.5" stroke-linecap="round"/><ellipse cx="878.0" cy="820.9" rx="0.9" ry="2.2" fill="#fff"/><path d="M612.8,1263.2 H755.7" stroke="#000" stroke-width="9.5" stroke-linecap="round"/><path d="M778.8,1263.2 H793.7" stroke="#000" stroke-width="9.5" stroke-linecap="round"/><ellipse cx="793.4" cy="1263.2" rx="1.4" ry="3.0" fill="#fff"/><circle cx="848.9" cy="1263.2" r="4.2" fill="none" stroke="#000" stroke-width="1.3"/><path d="M874.7,1263.2 H880.0" stroke="#000" stroke-width="9.5" stroke-linecap="round"/><ellipse cx="875.4" cy="1263.2" rx="0.8" ry="2.6" fill="#fff"/><ellipse cx="879.7" cy="1263.2" rx="0.9" ry="2.6" fill="#fff"/><path d="M610.8,1205.9 L612.8,1203.4 L614.9,1201.2 L616.9,1199.1 L618.9,1196.9 L620.9,1194.8 L623.0,1192.7 L625.0,1190.7 L627.0,1188.6 L629.0,1186.6 L631.1,1184.7 L633.1,1182.7 L635.1,1180.8 L637.2,1178.8 L639.2,1177.0 L641.2,1175.1 L643.2,1173.3 L645.3,1171.4 L647.3,1169.6 L649.3,1167.9 L651.4,1166.1 L653.4,1164.4 L655.4,1162.7 L657.4,1161.0 L659.5,1159.4 L661.5,1157.8 L663.5,1156.1 L665.5,1154.6 L667.6,1153.0 L669.6,1151.5 L671.6,1149.9 L673.7,1148.4 L675.7,1147.0 L677.7,1145.5 L679.7,1144.1 L681.8,1142.7 L683.8,1141.3 L685.8,1139.9 L687.9,1138.6 L689.9,1137.2 L691.9,1135.9 L693.9,1134.7 L696.0,1133.4 L698.0,1132.2 L700.0,1130.9 L702.0,1129.8 L704.1,1128.6 L706.1,1127.5 L708.1,1126.4 L710.2,1125.4 L712.2,1124.4 L714.2,1123.4 L716.2,1122.5 L718.3,1121.7 L720.3,1120.9 L722.3,1120.1 L724.4,1119.4 L726.4,1118.8 L728.4,1118.2 L730.4,1117.7 L732.5,1117.3 L734.5,1116.9 L736.5,1116.6 L738.5,1116.4 L740.6,1116.2 L742.6,1116.1 L744.6,1116.1 L746.7,1116.1 L748.7,1116.2 L750.7,1116.4 L752.7,1116.7 L754.8,1117.0 L756.8,1117.4 L758.8,1117.8 L760.8,1118.3 L762.9,1118.9 L764.9,1119.6 L766.9,1120.3 L769.0,1121.1 L771.0,1121.9 L773.0,1122.9 L775.0,1123.9 L777.1,1124.9 L779.1,1126.1 L781.1,1127.3 L783.2,1128.5 L785.2,1129.9 L787.2,1131.3 L789.2,1132.8 L791.3,1134.3 L793.3,1136.0 L795.3,1137.7 L797.3,1139.4 L799.4,1141.3 L801.4,1143.2 L803.4,1145.1 L805.5,1147.2 L807.5,1149.3 L809.5,1151.5 L811.5,1153.8 L813.6,1156.1 L815.6,1158.5 L817.6,1161.0 L819.7,1163.6 L821.7,1166.2 L823.7,1168.9 L825.7,1171.7 L827.8,1174.6 L829.8,1177.5 L831.8,1180.5 L833.8,1183.6 L835.9,1186.8 L837.9,1190.0 L839.9,1193.3 L842.0,1196.7 L844.0,1200.1 L846.0,1203.7 L848.0,1207.3 L850.1,1211.0 L852.1,1214.9 L854.1,1218.8 L856.2,1222.8 L858.2,1226.9 L860.2,1231.1 L862.2,1235.4 L864.3,1239.8 L866.3,1244.3 L868.3,1249.0 L870.3,1253.7 L872.4,1258.6 L874.4,1263.1 L879.8,1263.1" fill="none" stroke="#0000ff" stroke-width="3.4" stroke-linejoin="round" stroke-linecap="round"/></g>
<g font-family='"Liberation Sans", sans-serif' fill="#000"><text x="1309.1" y="788.1" text-anchor="middle" font-weight="bold" font-size="25.6">GLM fit - Precipitation</text><path d="M1139.0,820.9 H1151.3 V1263.2 H1139.0" fill="none" stroke="#000" stroke-width="1.8"/><path d="M1139.0,909.4 H1151.3" stroke="#000" stroke-width="1.8"/><path d="M1139.0,997.8 H1151.3" stroke="#000" stroke-width="1.8"/><path d="M1139.0,1086.3 H1151.3" stroke="#000" stroke-width="1.8"/><path d="M1139.0,1174.7 H1151.3" stroke="#000" stroke-width="1.8"/><text transform="translate(1121.7,1263.2) rotate(-90) scale(1,1.16)" text-anchor="middle" font-weight="bold" font-size="20.9">0.0</text><text transform="translate(1121.7,1174.7) rotate(-90) scale(1,1.16)" text-anchor="middle" font-weight="bold" font-size="20.9">0.2</text><text transform="translate(1121.7,1086.3) rotate(-90) scale(1,1.16)" text-anchor="middle" font-weight="bold" font-size="20.9">0.4</text><text transform="translate(1121.7,997.8) rotate(-90) scale(1,1.16)" text-anchor="middle" font-weight="bold" font-size="20.9">0.6</text><text transform="translate(1121.7,909.4) rotate(-90) scale(1,1.16)" text-anchor="middle" font-weight="bold" font-size="20.9">0.8</text><text transform="translate(1121.7,820.9) rotate(-90) scale(1,1.16)" text-anchor="middle" font-weight="bold" font-size="20.9">1.0</text><text transform="translate(1064.7,1220.3) rotate(-90)" font-size="28.6" font-style="italic" textLength="84.8" lengthAdjust="spacing">Culex</text><text transform="translate(1064.7,1127.2) rotate(-90)" font-size="28.6" textLength="267.8" lengthAdjust="spacingAndGlyphs">predicted occurrence</text><path d="M1163.6,1281.2 H1456.3" stroke="#000" stroke-width="1.8" fill="none"/><path d="M1163.6,1281.2 V1294.6" stroke="#000" stroke-width="1.8"/><text x="1162.8" y="1327.8" text-anchor="middle" font-weight="bold" font-size="21.6">0</text><path d="M1212.4,1281.2 V1294.6" stroke="#000" stroke-width="1.8"/><text x="1211.6" y="1327.8" text-anchor="middle" font-weight="bold" font-size="21.6">200</text><path d="M1261.2,1281.2 V1294.6" stroke="#000" stroke-width="1.8"/><path d="M1310.0,1281.2 V1294.6" stroke="#000" stroke-width="1.8"/><text x="1309.2" y="1327.8" text-anchor="middle" font-weight="bold" font-size="21.6">600</text><path d="M1358.7,1281.2 V1294.6" stroke="#000" stroke-width="1.8"/><path d="M1407.5,1281.2 V1294.6" stroke="#000" stroke-width="1.8"/><text x="1406.7" y="1327.8" text-anchor="middle" font-weight="bold" font-size="21.6">1000</text><path d="M1456.3,1281.2 V1294.6" stroke="#000" stroke-width="1.8"/><text x="1310.5" y="1379.0" text-anchor="middle" font-size="29.1">Precipitation (mm)</text><path d="M1168.8,820.9 H1234.0" stroke="#000" stroke-width="9.5" stroke-linecap="round"/><circle cx="1243.9" cy="820.9" r="4.2" fill="none" stroke="#000" stroke-width="1.3"/><path d="M1255.5,820.9 H1309.1" stroke="#000" stroke-width="9.5" stroke-linecap="round"/><path d="M1337.0,820.9 H1350.8" stroke="#000" stroke-width="9.5" stroke-linecap="round"/><ellipse cx="1338.1" cy="820.9" rx="1.6" ry="3.0" fill="#fff"/><ellipse cx="1349.7" cy="820.9" rx="1.6" ry="3.0" fill="#fff"/><path d="M1403.8,820.9 H1409.9" stroke="#000" stroke-width="9.5" stroke-linecap="round"/><ellipse cx="1407.2" cy="820.9" rx="1.0" ry="2.3" fill="#fff"/><path d="M1432.2,820.9 H1438.8" stroke="#000" stroke-width="9.5" stroke-linecap="round"/><ellipse cx="1437.4" cy="820.9" rx="0.9" ry="2.2" fill="#fff"/><path d="M1170.0,1263.2 H1312.8" stroke="#000" stroke-width="9.5" stroke-linecap="round"/><path d="M1336.0,1263.2 H1350.8" stroke="#000" stroke-width="9.5" stroke-linecap="round"/><ellipse cx="1350.6" cy="1263.2" rx="1.4" ry="3.0" fill="#fff"/><path d="M1405.5,1263.2 H1408.0" stroke="#000" stroke-width="9.5" stroke-linecap="round"/><ellipse cx="1407.2" cy="1263.2" rx="1.2" ry="3.0" fill="#fff"/><path d="M1431.8,1263.2 H1437.2" stroke="#000" stroke-width="9.5" stroke-linecap="round"/><ellipse cx="1432.6" cy="1263.2" rx="0.8" ry="2.6" fill="#fff"/><ellipse cx="1436.9" cy="1263.2" rx="0.9" ry="2.6" fill="#fff"/><path d="M1168.5,1180.4 L1170.5,1177.9 L1172.6,1175.6 L1174.6,1173.3 L1176.6,1171.0 L1178.6,1168.8 L1180.7,1166.7 L1182.7,1164.6 L1184.7,1162.6 L1186.8,1160.6 L1188.8,1158.6 L1190.8,1156.8 L1192.8,1154.9 L1194.9,1153.2 L1196.9,1151.4 L1198.9,1149.7 L1200.9,1148.1 L1203.0,1146.5 L1205.0,1145.0 L1207.0,1143.5 L1209.1,1142.0 L1211.1,1140.6 L1213.1,1139.3 L1215.1,1138.0 L1217.2,1136.7 L1219.2,1135.5 L1221.2,1134.3 L1223.3,1133.1 L1225.3,1132.1 L1227.3,1131.0 L1229.3,1130.0 L1231.4,1129.0 L1233.4,1128.1 L1235.4,1127.2 L1237.4,1126.4 L1239.5,1125.6 L1241.5,1124.8 L1243.5,1124.1 L1245.6,1123.4 L1247.6,1122.7 L1249.6,1122.1 L1251.6,1121.5 L1253.7,1121.0 L1255.7,1120.5 L1257.7,1120.0 L1259.8,1119.6 L1261.8,1119.2 L1263.8,1118.8 L1265.8,1118.5 L1267.9,1118.2 L1269.9,1117.9 L1271.9,1117.7 L1273.9,1117.5 L1276.0,1117.3 L1278.0,1117.2 L1280.0,1117.1 L1282.1,1117.0 L1284.1,1117.0 L1286.1,1116.9 L1288.1,1117.0 L1290.2,1117.0 L1292.2,1117.1 L1294.2,1117.2 L1296.3,1117.3 L1298.3,1117.4 L1300.3,1117.6 L1302.3,1117.8 L1304.4,1118.0 L1306.4,1118.3 L1308.4,1118.6 L1310.4,1118.9 L1312.5,1119.2 L1314.5,1119.5 L1316.5,1119.9 L1318.6,1120.3 L1320.6,1120.7 L1322.6,1121.2 L1324.6,1121.6 L1326.7,1122.1 L1328.7,1122.7 L1330.7,1123.2 L1332.8,1123.8 L1334.8,1124.3 L1336.8,1124.9 L1338.8,1125.6 L1340.9,1126.2 L1342.9,1126.9 L1344.9,1127.6 L1346.9,1128.3 L1349.0,1129.1 L1351.0,1129.8 L1353.0,1130.6 L1355.1,1131.4 L1357.1,1132.3 L1359.1,1133.1 L1361.1,1134.0 L1363.2,1134.9 L1365.2,1135.8 L1367.2,1136.8 L1369.3,1137.7 L1371.3,1138.7 L1373.3,1139.7 L1375.3,1140.8 L1377.4,1141.8 L1379.4,1142.9 L1381.4,1144.0 L1383.4,1145.1 L1385.5,1146.2 L1387.5,1147.4 L1389.5,1148.6 L1391.6,1149.8 L1393.6,1151.0 L1395.6,1152.2 L1397.6,1153.5 L1399.7,1154.8 L1401.7,1156.1 L1403.7,1157.4 L1405.8,1158.7 L1407.8,1160.1 L1409.8,1161.5 L1411.8,1162.9 L1413.9,1164.3 L1415.9,1165.7 L1417.9,1167.2 L1419.9,1168.6 L1422.0,1170.1 L1424.0,1171.7 L1426.0,1173.2 L1428.1,1174.7 L1430.1,1176.3 L1432.1,1177.9 L1434.1,1179.5 L1436.2,1181.1 L1438.2,1183.5" fill="none" stroke="#ff0000" stroke-width="3.4" stroke-linejoin="round" stroke-linecap="round"/></g>
<g font-family='"Liberation Sans", sans-serif' fill="#000"><text x="1793.0" y="788.1" text-anchor="middle" font-weight="bold" font-size="25.6">CART fit - Precipitation</text><path d="M1622.9,820.9 H1635.2 V1263.2 H1622.9" fill="none" stroke="#000" stroke-width="1.8"/><path d="M1622.9,909.4 H1635.2" stroke="#000" stroke-width="1.8"/><path d="M1622.9,997.8 H1635.2" stroke="#000" stroke-width="1.8"/><path d="M1622.9,1086.3 H1635.2" stroke="#000" stroke-width="1.8"/><path d="M1622.9,1174.7 H1635.2" stroke="#000" stroke-width="1.8"/><text transform="translate(1605.6,1263.2) rotate(-90) scale(1,1.16)" text-anchor="middle" font-weight="bold" font-size="20.9">0.0</text><text transform="translate(1605.6,1174.7) rotate(-90) scale(1,1.16)" text-anchor="middle" font-weight="bold" font-size="20.9">0.2</text><text transform="translate(1605.6,1086.3) rotate(-90) scale(1,1.16)" text-anchor="middle" font-weight="bold" font-size="20.9">0.4</text><text transform="translate(1605.6,997.8) rotate(-90) scale(1,1.16)" text-anchor="middle" font-weight="bold" font-size="20.9">0.6</text><text transform="translate(1605.6,909.4) rotate(-90) scale(1,1.16)" text-anchor="middle" font-weight="bold" font-size="20.9">0.8</text><text transform="translate(1605.6,820.9) rotate(-90) scale(1,1.16)" text-anchor="middle" font-weight="bold" font-size="20.9">1.0</text><text transform="translate(1547.5,1220.3) rotate(-90)" font-size="28.6" font-style="italic" textLength="84.8" lengthAdjust="spacing">Culex</text><text transform="translate(1547.5,1127.2) rotate(-90)" font-size="28.6" textLength="267.8" lengthAdjust="spacingAndGlyphs">predicted occurrence</text><path d="M1647.5,1281.2 H1940.2" stroke="#000" stroke-width="1.8" fill="none"/><path d="M1647.5,1281.2 V1294.6" stroke="#000" stroke-width="1.8"/><text x="1646.7" y="1327.8" text-anchor="middle" font-weight="bold" font-size="21.6">0</text><path d="M1696.3,1281.2 V1294.6" stroke="#000" stroke-width="1.8"/><text x="1695.5" y="1327.8" text-anchor="middle" font-weight="bold" font-size="21.6">200</text><path d="M1745.1,1281.2 V1294.6" stroke="#000" stroke-width="1.8"/><path d="M1793.9,1281.2 V1294.6" stroke="#000" stroke-width="1.8"/><text x="1793.1" y="1327.8" text-anchor="middle" font-weight="bold" font-size="21.6">600</text><path d="M1842.6,1281.2 V1294.6" stroke="#000" stroke-width="1.8"/><path d="M1891.4,1281.2 V1294.6" stroke="#000" stroke-width="1.8"/><text x="1890.6" y="1327.8" text-anchor="middle" font-weight="bold" font-size="21.6">1000</text><path d="M1940.2,1281.2 V1294.6" stroke="#000" stroke-width="1.8"/><text x="1794.4" y="1379.0" text-anchor="middle" font-size="29.1">Precipitation (mm)</text><path d="M1652.8,820.9 H1717.9" stroke="#000" stroke-width="9.5" stroke-linecap="round"/><ellipse cx="1664.6" cy="820.9" rx="0.5" ry="1.6" fill="#fff"/><circle cx="1727.8" cy="820.9" r="4.2" fill="none" stroke="#000" stroke-width="1.3"/><path d="M1739.5,820.9 H1793.0" stroke="#000" stroke-width="9.5" stroke-linecap="round"/><ellipse cx="1758.9" cy="820.9" rx="0.5" ry="1.6" fill="#fff"/><circle cx="1821.8" cy="820.9" r="4.2" fill="none" stroke="#000" stroke-width="1.3"/><circle cx="1823.9" cy="820.9" r="4.2" fill="none" stroke="#000" stroke-width="1.3"/><path d="M1833.0,820.9 H1834.7" stroke="#000" stroke-width="9.5" stroke-linecap="round"/><ellipse cx="1833.8" cy="820.9" rx="1.5" ry="3.0" fill="#fff"/><path d="M1887.0,820.9 H1893.6" stroke="#000" stroke-width="9.5" stroke-linecap="round"/><path d="M1916.2,820.9 H1921.6" stroke="#000" stroke-width="9.5" stroke-linecap="round"/><ellipse cx="1919.1" cy="820.9" rx="0.9" ry="2.2" fill="#fff"/><path d="M1653.9,1263.2 H1796.8" stroke="#000" stroke-width="9.5" stroke-linecap="round"/><path d="M1819.9,1263.2 H1834.8" stroke="#000" stroke-width="9.5" stroke-linecap="round"/><ellipse cx="1834.5" cy="1263.2" rx="1.4" ry="3.0" fill="#fff"/><circle cx="1890.0" cy="1263.2" r="4.2" fill="none" stroke="#000" stroke-width="1.3"/><path d="M1915.8,1263.2 H1921.1" stroke="#000" stroke-width="9.5" stroke-linecap="round"/><ellipse cx="1916.5" cy="1263.2" rx="0.8" ry="2.6" fill="#fff"/><ellipse cx="1920.8" cy="1263.2" rx="0.9" ry="2.6" fill="#fff"/><path d="M1652.0,1218.3 L1654.0,1215.5 L1656.0,1212.3 L1658.1,1209.2 L1660.1,1206.0 L1662.1,1202.9 L1664.1,1199.8 L1666.1,1196.7 L1668.1,1193.7 L1670.2,1190.7 L1672.2,1187.7 L1674.2,1184.8 L1676.2,1181.9 L1678.2,1179.0 L1680.3,1176.2 L1682.3,1173.4 L1684.3,1170.7 L1686.3,1168.0 L1688.3,1165.4 L1690.3,1162.8 L1692.4,1160.2 L1694.4,1157.7 L1696.4,1155.3 L1698.4,1152.9 L1700.4,1150.6 L1702.5,1148.3 L1704.5,1146.1 L1706.5,1144.0 L1708.5,1141.9 L1710.5,1139.9 L1712.5,1138.0 L1714.6,1136.1 L1716.6,1134.3 L1718.6,1132.6 L1720.6,1131.0 L1722.6,1129.4 L1724.7,1127.9 L1726.7,1126.5 L1728.7,1125.1 L1730.7,1123.8 L1732.7,1122.6 L1734.7,1121.4 L1736.8,1120.4 L1738.8,1119.4 L1740.8,1118.4 L1742.8,1117.6 L1744.8,1116.8 L1746.9,1116.1 L1748.9,1115.4 L1750.9,1114.8 L1752.9,1114.3 L1754.9,1113.9 L1756.9,1113.5 L1759.0,1113.2 L1761.0,1113.0 L1763.0,1112.8 L1765.0,1112.7 L1767.0,1112.7 L1769.1,1112.8 L1771.1,1112.9 L1773.1,1113.1 L1775.1,1113.3 L1777.1,1113.7 L1779.1,1114.0 L1781.2,1114.5 L1783.2,1115.0 L1785.2,1115.6 L1787.2,1116.3 L1789.2,1117.0 L1791.3,1117.9 L1793.3,1118.7 L1795.3,1119.7 L1797.3,1120.7 L1799.3,1121.8 L1801.3,1122.9 L1803.4,1124.1 L1805.4,1125.4 L1807.4,1126.8 L1809.4,1128.2 L1811.4,1129.7 L1813.5,1131.3 L1815.5,1132.9 L1817.5,1134.6 L1819.5,1136.4 L1821.5,1138.3 L1823.5,1140.2 L1825.6,1142.2 L1827.6,1144.3 L1829.6,1146.5 L1831.6,1148.7 L1833.6,1151.0 L1835.7,1153.4 L1837.7,1155.9 L1839.7,1158.4 L1841.7,1161.1 L1843.7,1163.8 L1845.7,1166.5 L1847.8,1169.4 L1849.8,1172.3 L1851.8,1175.3 L1853.8,1178.4 L1855.8,1181.6 L1857.9,1184.8 L1859.9,1188.2 L1861.9,1191.6 L1863.9,1195.1 L1865.9,1198.7 L1867.9,1202.3 L1870.0,1206.1 L1872.0,1209.9 L1874.0,1213.8 L1876.0,1217.8 L1878.0,1222.0 L1880.1,1226.2 L1882.1,1230.4 L1884.1,1234.8 L1886.1,1239.3 L1888.1,1243.9 L1890.1,1248.6 L1892.2,1253.4 L1894.2,1258.3 L1896.2,1263.1 L1923.2,1263.1" fill="none" stroke="#0000ff" stroke-width="3.4" stroke-linejoin="round" stroke-linecap="round"/></g>
<g font-family='"Liberation Sans", sans-serif' fill="#000"><text x="268.3" y="1491.4" text-anchor="middle" font-weight="bold" font-size="25.7">GLM fit - Distance</text><path d="M98.2,1524.2 H110.5 V1966.5 H98.2" fill="none" stroke="#000" stroke-width="1.8"/><path d="M98.2,1612.7 H110.5" stroke="#000" stroke-width="1.8"/><path d="M98.2,1701.1 H110.5" stroke="#000" stroke-width="1.8"/><path d="M98.2,1789.6 H110.5" stroke="#000" stroke-width="1.8"/><path d="M98.2,1878.0 H110.5" stroke="#000" stroke-width="1.8"/><text transform="translate(80.9,1966.5) rotate(-90) scale(1,1.16)" text-anchor="middle" font-weight="bold" font-size="20.9">0.0</text><text transform="translate(80.9,1878.0) rotate(-90) scale(1,1.16)" text-anchor="middle" font-weight="bold" font-size="20.9">0.2</text><text transform="translate(80.9,1789.6) rotate(-90) scale(1,1.16)" text-anchor="middle" font-weight="bold" font-size="20.9">0.4</text><text transform="translate(80.9,1701.1) rotate(-90) scale(1,1.16)" text-anchor="middle" font-weight="bold" font-size="20.9">0.6</text><text transform="translate(80.9,1612.7) rotate(-90) scale(1,1.16)" text-anchor="middle" font-weight="bold" font-size="20.9">0.8</text><text transform="translate(80.9,1524.2) rotate(-90) scale(1,1.16)" text-anchor="middle" font-weight="bold" font-size="20.9">1.0</text><text transform="translate(24.6,1923.6) rotate(-90)" font-size="28.6" font-style="italic" textLength="84.8" lengthAdjust="spacing">Culex</text><text transform="translate(24.6,1830.5) rotate(-90)" font-size="28.6" textLength="267.8" lengthAdjust="spacingAndGlyphs">predicted occurrence</text><path d="M122.8,1984.5 H415.5" stroke="#000" stroke-width="1.8" fill="none"/><path d="M122.8,1984.5 V1997.9" stroke="#000" stroke-width="1.8"/><text x="122.0" y="2031.1" text-anchor="middle" font-weight="bold" font-size="21.6">0</text><path d="M181.3,1984.5 V1997.9" stroke="#000" stroke-width="1.8"/><text x="180.5" y="2031.1" text-anchor="middle" font-weight="bold" font-size="21.6">500</text><path d="M239.9,1984.5 V1997.9" stroke="#000" stroke-width="1.8"/><path d="M298.4,1984.5 V1997.9" stroke="#000" stroke-width="1.8"/><text x="297.6" y="2031.1" text-anchor="middle" font-weight="bold" font-size="21.6">1500</text><path d="M357.0,1984.5 V1997.9" stroke="#000" stroke-width="1.8"/><path d="M415.5,1984.5 V1997.9" stroke="#000" stroke-width="1.8"/><text x="414.7" y="2031.1" text-anchor="middle" font-weight="bold" font-size="21.6">2500</text><text x="269.7" y="2082.3" text-anchor="middle" font-size="29.1">Distance (m)</text><path d="M131.3,1524.2 H385.8" stroke="#000" stroke-width="9.5" stroke-linecap="round"/><ellipse cx="167.9" cy="1524.2" rx="0.6" ry="1.7" fill="#fff"/><ellipse cx="205.2" cy="1524.2" rx="0.6" ry="1.7" fill="#fff"/><ellipse cx="208.0" cy="1524.2" rx="0.6" ry="1.7" fill="#fff"/><ellipse cx="239.9" cy="1524.2" rx="0.6" ry="1.7" fill="#fff"/><ellipse cx="259.9" cy="1524.2" rx="0.6" ry="1.7" fill="#fff"/><ellipse cx="318.5" cy="1524.2" rx="0.6" ry="1.7" fill="#fff"/><ellipse cx="330.5" cy="1524.2" rx="0.6" ry="1.7" fill="#fff"/><ellipse cx="343.8" cy="1524.2" rx="0.6" ry="1.7" fill="#fff"/><ellipse cx="354.5" cy="1524.2" rx="0.6" ry="1.7" fill="#fff"/><ellipse cx="378.5" cy="1524.2" rx="0.6" ry="1.7" fill="#fff"/><ellipse cx="382.5" cy="1524.2" rx="0.6" ry="1.7" fill="#fff"/><ellipse cx="130.8" cy="1524.2" rx="0.7" ry="3.3" fill="#fff"/><ellipse cx="227.0" cy="1524.2" rx="0.7" ry="3.3" fill="#fff"/><ellipse cx="273.2" cy="1524.2" rx="0.7" ry="3.3" fill="#fff"/><ellipse cx="365.8" cy="1524.2" rx="0.7" ry="3.3" fill="#fff"/><ellipse cx="386.8" cy="1524.2" rx="0.7" ry="3.3" fill="#fff"/><path d="M131.2,1966.5 H388.2" stroke="#000" stroke-width="9.5" stroke-linecap="round"/><ellipse cx="208.9" cy="1966.5" rx="0.6" ry="1.7" fill="#fff"/><ellipse cx="224.1" cy="1966.5" rx="0.6" ry="1.7" fill="#fff"/><ellipse cx="240.3" cy="1966.5" rx="0.6" ry="1.7" fill="#fff"/><ellipse cx="260.5" cy="1966.5" rx="0.6" ry="1.7" fill="#fff"/><ellipse cx="318.2" cy="1966.5" rx="0.6" ry="1.7" fill="#fff"/><ellipse cx="329.4" cy="1966.5" rx="0.6" ry="1.7" fill="#fff"/><ellipse cx="362.5" cy="1966.5" rx="0.6" ry="1.7" fill="#fff"/><ellipse cx="368.5" cy="1966.5" rx="0.6" ry="1.7" fill="#fff"/><ellipse cx="374.5" cy="1966.5" rx="0.6" ry="1.7" fill="#fff"/><ellipse cx="380.0" cy="1966.5" rx="0.6" ry="1.7" fill="#fff"/><ellipse cx="130.1" cy="1966.5" rx="0.7" ry="3.3" fill="#fff"/><ellipse cx="344.6" cy="1966.5" rx="0.7" ry="3.3" fill="#fff"/><ellipse cx="389.4" cy="1966.5" rx="0.7" ry="3.3" fill="#fff"/><path d="M134.4,1803.4 L136.4,1803.8 L138.4,1804.9 L140.4,1806.1 L142.5,1807.2 L144.5,1808.3 L146.5,1809.4 L148.5,1810.5 L150.5,1811.6 L152.5,1812.7 L154.5,1813.8 L156.6,1814.8 L158.6,1815.9 L160.6,1816.9 L162.6,1818.0 L164.6,1819.0 L166.6,1820.0 L168.6,1821.0 L170.7,1822.0 L172.7,1823.0 L174.7,1824.0 L176.7,1824.9 L178.7,1825.9 L180.7,1826.9 L182.7,1827.8 L184.8,1828.7 L186.8,1829.6 L188.8,1830.6 L190.8,1831.5 L192.8,1832.4 L194.8,1833.3 L196.8,1834.1 L198.9,1835.0 L200.9,1835.9 L202.9,1836.7 L204.9,1837.5 L206.9,1838.4 L208.9,1839.2 L210.9,1840.0 L213.0,1840.8 L215.0,1841.6 L217.0,1842.4 L219.0,1843.2 L221.0,1844.0 L223.0,1844.7 L225.0,1845.5 L227.1,1846.2 L229.1,1846.9 L231.1,1847.7 L233.1,1848.4 L235.1,1849.1 L237.1,1849.8 L239.1,1850.5 L241.2,1851.2 L243.2,1851.8 L245.2,1852.5 L247.2,1853.2 L249.2,1853.8 L251.2,1854.4 L253.2,1855.1 L255.3,1855.7 L257.3,1856.3 L259.3,1856.9 L261.3,1857.5 L263.3,1858.1 L265.3,1858.6 L267.3,1859.2 L269.4,1859.8 L271.4,1860.3 L273.4,1860.9 L275.4,1861.4 L277.4,1861.9 L279.4,1862.4 L281.5,1862.9 L283.5,1863.4 L285.5,1863.9 L287.5,1864.4 L289.5,1864.9 L291.5,1865.3 L293.5,1865.8 L295.6,1866.2 L297.6,1866.7 L299.6,1867.1 L301.6,1867.5 L303.6,1867.9 L305.6,1868.4 L307.6,1868.7 L309.7,1869.1 L311.7,1869.5 L313.7,1869.9 L315.7,1870.2 L317.7,1870.6 L319.7,1870.9 L321.7,1871.3 L323.8,1871.6 L325.8,1871.9 L327.8,1872.2 L329.8,1872.5 L331.8,1872.8 L333.8,1873.1 L335.8,1873.4 L337.9,1873.6 L339.9,1873.9 L341.9,1874.1 L343.9,1874.4 L345.9,1874.6 L347.9,1874.8 L349.9,1875.0 L352.0,1875.2 L354.0,1875.4 L356.0,1875.6 L358.0,1875.8 L360.0,1876.0 L362.0,1876.1 L364.0,1876.3 L366.1,1876.4 L368.1,1876.6 L370.1,1876.7 L372.1,1876.8 L374.1,1876.9 L376.1,1877.1 L378.1,1877.1 L380.2,1877.2 L382.2,1877.3 L384.2,1877.4 L386.2,1877.4 L388.2,1877.5 L390.2,1877.5 L392.2,1877.6 L394.3,1877.6 L396.3,1877.6 L398.3,1877.6 L400.3,1877.6 L402.3,1877.6 L404.3,1877.6 L406.3,1877.6 L408.4,1877.6 L410.4,1877.5 L412.4,1877.5 L414.4,1877.0" fill="none" stroke="#ff0000" stroke-width="3.4" stroke-linejoin="round" stroke-linecap="round"/></g>
<g font-family='"Liberation Sans", sans-serif' fill="#000"><text x="751.9" y="1491.4" text-anchor="middle" font-weight="bold" font-size="25.7">CART fit - Distance</text><path d="M581.8,1524.2 H594.1 V1966.5 H581.8" fill="none" stroke="#000" stroke-width="1.8"/><path d="M581.8,1612.7 H594.1" stroke="#000" stroke-width="1.8"/><path d="M581.8,1701.1 H594.1" stroke="#000" stroke-width="1.8"/><path d="M581.8,1789.6 H594.1" stroke="#000" stroke-width="1.8"/><path d="M581.8,1878.0 H594.1" stroke="#000" stroke-width="1.8"/><text transform="translate(564.5,1966.5) rotate(-90) scale(1,1.16)" text-anchor="middle" font-weight="bold" font-size="20.9">0.0</text><text transform="translate(564.5,1878.0) rotate(-90) scale(1,1.16)" text-anchor="middle" font-weight="bold" font-size="20.9">0.2</text><text transform="translate(564.5,1789.6) rotate(-90) scale(1,1.16)" text-anchor="middle" font-weight="bold" font-size="20.9">0.4</text><text transform="translate(564.5,1701.1) rotate(-90) scale(1,1.16)" text-anchor="middle" font-weight="bold" font-size="20.9">0.6</text><text transform="translate(564.5,1612.7) rotate(-90) scale(1,1.16)" text-anchor="middle" font-weight="bold" font-size="20.9">0.8</text><text transform="translate(564.5,1524.2) rotate(-90) scale(1,1.16)" text-anchor="middle" font-weight="bold" font-size="20.9">1.0</text><text transform="translate(506.6,1923.6) rotate(-90)" font-size="28.6" font-style="italic" textLength="84.8" lengthAdjust="spacing">Culex</text><text transform="translate(506.6,1830.5) rotate(-90)" font-size="28.6" textLength="267.8" lengthAdjust="spacingAndGlyphs">predicted occurrence</text><path d="M606.4,1984.5 H899.1" stroke="#000" stroke-width="1.8" fill="none"/><path d="M606.4,1984.5 V1997.9" stroke="#000" stroke-width="1.8"/><text x="605.6" y="2031.1" text-anchor="middle" font-weight="bold" font-size="21.6">0</text><path d="M664.9,1984.5 V1997.9" stroke="#000" stroke-width="1.8"/><text x="664.1" y="2031.1" text-anchor="middle" font-weight="bold" font-size="21.6">500</text><path d="M723.5,1984.5 V1997.9" stroke="#000" stroke-width="1.8"/><path d="M782.0,1984.5 V1997.9" stroke="#000" stroke-width="1.8"/><text x="781.2" y="2031.1" text-anchor="middle" font-weight="bold" font-size="21.6">1500</text><path d="M840.6,1984.5 V1997.9" stroke="#000" stroke-width="1.8"/><path d="M899.1,1984.5 V1997.9" stroke="#000" stroke-width="1.8"/><text x="898.3" y="2031.1" text-anchor="middle" font-weight="bold" font-size="21.6">2500</text><text x="752.5" y="2082.3" text-anchor="middle" font-size="28.6">Distance - (m)</text><path d="M615.0,1524.2 H869.4" stroke="#000" stroke-width="9.5" stroke-linecap="round"/><ellipse cx="651.5" cy="1524.2" rx="0.6" ry="1.7" fill="#fff"/><ellipse cx="688.8" cy="1524.2" rx="0.6" ry="1.7" fill="#fff"/><ellipse cx="691.6" cy="1524.2" rx="0.6" ry="1.7" fill="#fff"/><ellipse cx="723.5" cy="1524.2" rx="0.6" ry="1.7" fill="#fff"/><ellipse cx="743.5" cy="1524.2" rx="0.6" ry="1.7" fill="#fff"/><ellipse cx="802.1" cy="1524.2" rx="0.6" ry="1.7" fill="#fff"/><ellipse cx="814.1" cy="1524.2" rx="0.6" ry="1.7" fill="#fff"/><ellipse cx="827.4" cy="1524.2" rx="0.6" ry="1.7" fill="#fff"/><ellipse cx="838.1" cy="1524.2" rx="0.6" ry="1.7" fill="#fff"/><ellipse cx="862.1" cy="1524.2" rx="0.6" ry="1.7" fill="#fff"/><ellipse cx="866.1" cy="1524.2" rx="0.6" ry="1.7" fill="#fff"/><ellipse cx="614.4" cy="1524.2" rx="0.7" ry="3.3" fill="#fff"/><ellipse cx="710.6" cy="1524.2" rx="0.7" ry="3.3" fill="#fff"/><ellipse cx="756.8" cy="1524.2" rx="0.7" ry="3.3" fill="#fff"/><ellipse cx="849.4" cy="1524.2" rx="0.7" ry="3.3" fill="#fff"/><ellipse cx="870.4" cy="1524.2" rx="0.7" ry="3.3" fill="#fff"/><path d="M614.9,1966.5 H871.9" stroke="#000" stroke-width="9.5" stroke-linecap="round"/><ellipse cx="692.5" cy="1966.5" rx="0.6" ry="1.7" fill="#fff"/><ellipse cx="707.7" cy="1966.5" rx="0.6" ry="1.7" fill="#fff"/><ellipse cx="723.9" cy="1966.5" rx="0.6" ry="1.7" fill="#fff"/><ellipse cx="744.1" cy="1966.5" rx="0.6" ry="1.7" fill="#fff"/><ellipse cx="801.8" cy="1966.5" rx="0.6" ry="1.7" fill="#fff"/><ellipse cx="813.0" cy="1966.5" rx="0.6" ry="1.7" fill="#fff"/><ellipse cx="846.1" cy="1966.5" rx="0.6" ry="1.7" fill="#fff"/><ellipse cx="852.1" cy="1966.5" rx="0.6" ry="1.7" fill="#fff"/><ellipse cx="858.1" cy="1966.5" rx="0.6" ry="1.7" fill="#fff"/><ellipse cx="863.6" cy="1966.5" rx="0.6" ry="1.7" fill="#fff"/><ellipse cx="613.7" cy="1966.5" rx="0.7" ry="3.3" fill="#fff"/><ellipse cx="828.2" cy="1966.5" rx="0.7" ry="3.3" fill="#fff"/><ellipse cx="873.0" cy="1966.5" rx="0.7" ry="3.3" fill="#fff"/><path d="M617.0,1782.0 L619.0,1784.4 L621.0,1787.1 L623.0,1789.7 L625.1,1792.3 L627.1,1794.9 L629.1,1797.5 L631.1,1800.0 L633.1,1802.6 L635.1,1805.1 L637.2,1807.5 L639.2,1810.0 L641.2,1812.4 L643.2,1814.8 L645.2,1817.2 L647.2,1819.6 L649.3,1821.9 L651.3,1824.2 L653.3,1826.5 L655.3,1828.7 L657.3,1831.0 L659.3,1833.2 L661.4,1835.4 L663.4,1837.5 L665.4,1839.6 L667.4,1841.8 L669.4,1843.8 L671.4,1845.9 L673.5,1848.0 L675.5,1850.0 L677.5,1852.0 L679.5,1853.9 L681.5,1855.9 L683.5,1857.8 L685.6,1859.7 L687.6,1861.6 L689.6,1863.4 L691.6,1865.2 L693.6,1867.0 L695.6,1868.8 L697.7,1870.5 L699.7,1872.3 L701.7,1874.0 L703.7,1875.7 L705.7,1877.3 L707.7,1878.9 L709.8,1880.5 L711.8,1882.1 L713.8,1883.7 L715.8,1885.2 L717.8,1886.7 L719.8,1888.2 L721.9,1889.7 L723.9,1891.1 L725.9,1892.5 L727.9,1893.9 L729.9,1895.3 L731.9,1896.6 L734.0,1897.9 L736.0,1899.2 L738.0,1900.5 L740.0,1901.7 L742.0,1902.9 L744.0,1904.1 L746.1,1905.3 L748.1,1906.5 L750.1,1907.6 L752.1,1908.7 L754.1,1909.8 L756.1,1910.8 L758.1,1911.8 L760.2,1912.8 L762.2,1913.8 L764.2,1914.8 L766.2,1915.7 L768.2,1916.6 L770.2,1917.5 L772.3,1918.4 L774.3,1919.2 L776.3,1920.0 L778.3,1920.8 L780.3,1921.6 L782.3,1922.3 L784.4,1923.0 L786.4,1923.7 L788.4,1924.4 L790.4,1925.0 L792.4,1925.6 L794.4,1926.2 L796.5,1926.8 L798.5,1927.3 L800.5,1927.9 L802.5,1928.4 L804.5,1928.8 L806.5,1929.3 L808.6,1929.7 L810.6,1930.1 L812.6,1930.5 L814.6,1930.8 L816.6,1931.2 L818.6,1931.5 L820.7,1931.8 L822.7,1932.0 L824.7,1932.3 L826.7,1932.5 L828.7,1932.7 L830.7,1932.8 L832.8,1933.0 L834.8,1933.1 L836.8,1933.2 L838.8,1933.2 L840.8,1933.3 L842.8,1933.3 L844.9,1933.3 L846.9,1933.3 L848.9,1933.2 L850.9,1933.1 L852.9,1933.0 L854.9,1932.9 L857.0,1932.7 L859.0,1932.6 L861.0,1932.4 L863.0,1932.2 L865.0,1931.9 L867.0,1931.6 L869.1,1931.4 L871.1,1931.0 L873.1,1930.7 L875.1,1930.3 L877.1,1929.9 L879.1,1929.5 L881.2,1929.1 L883.2,1928.6 L885.2,1928.2 L887.2,1927.6 L889.2,1927.1 L891.2,1926.6 L893.3,1926.0 L895.3,1925.4 L897.3,1924.7 L899.3,1924.3" fill="none" stroke="#0000ff" stroke-width="3.4" stroke-linejoin="round" stroke-linecap="round"/></g>
<g font-family='"Liberation Sans", sans-serif' fill="#000"><text x="1309.1" y="1491.4" text-anchor="middle" font-weight="bold" font-size="25.7">GLM fit - Distance</text><path d="M1139.0,1524.2 H1151.3 V1966.5 H1139.0" fill="none" stroke="#000" stroke-width="1.8"/><path d="M1139.0,1612.7 H1151.3" stroke="#000" stroke-width="1.8"/><path d="M1139.0,1701.1 H1151.3" stroke="#000" stroke-width="1.8"/><path d="M1139.0,1789.6 H1151.3" stroke="#000" stroke-width="1.8"/><path d="M1139.0,1878.0 H1151.3" stroke="#000" stroke-width="1.8"/><text transform="translate(1121.7,1966.5) rotate(-90) scale(1,1.16)" text-anchor="middle" font-weight="bold" font-size="20.9">0.0</text><text transform="translate(1121.7,1878.0) rotate(-90) scale(1,1.16)" text-anchor="middle" font-weight="bold" font-size="20.9">0.2</text><text transform="translate(1121.7,1789.6) rotate(-90) scale(1,1.16)" text-anchor="middle" font-weight="bold" font-size="20.9">0.4</text><text transform="translate(1121.7,1701.1) rotate(-90) scale(1,1.16)" text-anchor="middle" font-weight="bold" font-size="20.9">0.6</text><text transform="translate(1121.7,1612.7) rotate(-90) scale(1,1.16)" text-anchor="middle" font-weight="bold" font-size="20.9">0.8</text><text transform="translate(1121.7,1524.2) rotate(-90) scale(1,1.16)" text-anchor="middle" font-weight="bold" font-size="20.9">1.0</text><text transform="translate(1064.7,1923.6) rotate(-90)" font-size="28.6" font-style="italic" textLength="84.8" lengthAdjust="spacing">Culex</text><text transform="translate(1064.7,1830.5) rotate(-90)" font-size="28.6" textLength="267.8" lengthAdjust="spacingAndGlyphs">predicted occurrence</text><path d="M1163.6,1984.5 H1456.3" stroke="#000" stroke-width="1.8" fill="none"/><path d="M1163.6,1984.5 V1997.9" stroke="#000" stroke-width="1.8"/><text x="1162.8" y="2031.1" text-anchor="middle" font-weight="bold" font-size="21.6">0</text><path d="M1222.1,1984.5 V1997.9" stroke="#000" stroke-width="1.8"/><text x="1221.3" y="2031.1" text-anchor="middle" font-weight="bold" font-size="21.6">500</text><path d="M1280.7,1984.5 V1997.9" stroke="#000" stroke-width="1.8"/><path d="M1339.2,1984.5 V1997.9" stroke="#000" stroke-width="1.8"/><text x="1338.4" y="2031.1" text-anchor="middle" font-weight="bold" font-size="21.6">1500</text><path d="M1397.8,1984.5 V1997.9" stroke="#000" stroke-width="1.8"/><path d="M1456.3,1984.5 V1997.9" stroke="#000" stroke-width="1.8"/><text x="1455.5" y="2031.1" text-anchor="middle" font-weight="bold" font-size="21.6">2500</text><text x="1310.5" y="2082.3" text-anchor="middle" font-size="29.1">Distance (m)</text><path d="M1172.1,1524.2 H1426.5" stroke="#000" stroke-width="9.5" stroke-linecap="round"/><ellipse cx="1208.7" cy="1524.2" rx="0.6" ry="1.7" fill="#fff"/><ellipse cx="1246.0" cy="1524.2" rx="0.6" ry="1.7" fill="#fff"/><ellipse cx="1248.8" cy="1524.2" rx="0.6" ry="1.7" fill="#fff"/><ellipse cx="1280.7" cy="1524.2" rx="0.6" ry="1.7" fill="#fff"/><ellipse cx="1300.7" cy="1524.2" rx="0.6" ry="1.7" fill="#fff"/><ellipse cx="1359.3" cy="1524.2" rx="0.6" ry="1.7" fill="#fff"/><ellipse cx="1371.3" cy="1524.2" rx="0.6" ry="1.7" fill="#fff"/><ellipse cx="1384.6" cy="1524.2" rx="0.6" ry="1.7" fill="#fff"/><ellipse cx="1395.3" cy="1524.2" rx="0.6" ry="1.7" fill="#fff"/><ellipse cx="1419.3" cy="1524.2" rx="0.6" ry="1.7" fill="#fff"/><ellipse cx="1423.3" cy="1524.2" rx="0.6" ry="1.7" fill="#fff"/><ellipse cx="1171.6" cy="1524.2" rx="0.7" ry="3.3" fill="#fff"/><ellipse cx="1267.8" cy="1524.2" rx="0.7" ry="3.3" fill="#fff"/><ellipse cx="1314.0" cy="1524.2" rx="0.7" ry="3.3" fill="#fff"/><ellipse cx="1406.6" cy="1524.2" rx="0.7" ry="3.3" fill="#fff"/><ellipse cx="1427.6" cy="1524.2" rx="0.7" ry="3.3" fill="#fff"/><path d="M1172.0,1966.5 H1429.0" stroke="#000" stroke-width="9.5" stroke-linecap="round"/><ellipse cx="1249.7" cy="1966.5" rx="0.6" ry="1.7" fill="#fff"/><ellipse cx="1264.9" cy="1966.5" rx="0.6" ry="1.7" fill="#fff"/><ellipse cx="1281.1" cy="1966.5" rx="0.6" ry="1.7" fill="#fff"/><ellipse cx="1301.3" cy="1966.5" rx="0.6" ry="1.7" fill="#fff"/><ellipse cx="1359.0" cy="1966.5" rx="0.6" ry="1.7" fill="#fff"/><ellipse cx="1370.2" cy="1966.5" rx="0.6" ry="1.7" fill="#fff"/><ellipse cx="1403.3" cy="1966.5" rx="0.6" ry="1.7" fill="#fff"/><ellipse cx="1409.3" cy="1966.5" rx="0.6" ry="1.7" fill="#fff"/><ellipse cx="1415.3" cy="1966.5" rx="0.6" ry="1.7" fill="#fff"/><ellipse cx="1420.8" cy="1966.5" rx="0.6" ry="1.7" fill="#fff"/><ellipse cx="1170.9" cy="1966.5" rx="0.7" ry="3.3" fill="#fff"/><ellipse cx="1385.4" cy="1966.5" rx="0.7" ry="3.3" fill="#fff"/><ellipse cx="1430.2" cy="1966.5" rx="0.7" ry="3.3" fill="#fff"/><path d="M1175.4,1777.0 L1177.4,1779.6 L1179.5,1781.5 L1181.5,1783.4 L1183.5,1785.3 L1185.5,1787.2 L1187.6,1789.1 L1189.6,1790.9 L1191.6,1792.8 L1193.6,1794.6 L1195.7,1796.4 L1197.7,1798.2 L1199.7,1800.0 L1201.7,1801.7 L1203.8,1803.5 L1205.8,1805.2 L1207.8,1806.9 L1209.8,1808.6 L1211.9,1810.3 L1213.9,1812.0 L1215.9,1813.7 L1217.9,1815.3 L1220.0,1817.0 L1222.0,1818.6 L1224.0,1820.2 L1226.0,1821.8 L1228.1,1823.3 L1230.1,1824.9 L1232.1,1826.4 L1234.1,1827.9 L1236.2,1829.4 L1238.2,1830.9 L1240.2,1832.4 L1242.2,1833.9 L1244.3,1835.3 L1246.3,1836.8 L1248.3,1838.2 L1250.3,1839.6 L1252.4,1841.0 L1254.4,1842.4 L1256.4,1843.7 L1258.4,1845.1 L1260.5,1846.4 L1262.5,1847.7 L1264.5,1849.0 L1266.5,1850.3 L1268.6,1851.6 L1270.6,1852.8 L1272.6,1854.0 L1274.6,1855.3 L1276.7,1856.5 L1278.7,1857.7 L1280.7,1858.9 L1282.7,1860.0 L1284.8,1861.2 L1286.8,1862.3 L1288.8,1863.4 L1290.8,1864.5 L1292.9,1865.6 L1294.9,1866.7 L1296.9,1867.7 L1298.9,1868.8 L1301.0,1869.8 L1303.0,1870.8 L1305.0,1871.8 L1307.0,1872.8 L1309.1,1873.8 L1311.1,1874.7 L1313.1,1875.7 L1315.1,1876.6 L1317.2,1877.5 L1319.2,1878.4 L1321.2,1879.3 L1323.2,1880.1 L1325.3,1881.0 L1327.3,1881.8 L1329.3,1882.6 L1331.3,1883.4 L1333.4,1884.2 L1335.4,1885.0 L1337.4,1885.7 L1339.4,1886.5 L1341.5,1887.2 L1343.5,1887.9 L1345.5,1888.6 L1347.5,1889.3 L1349.6,1889.9 L1351.6,1890.6 L1353.6,1891.2 L1355.6,1891.8 L1357.7,1892.4 L1359.7,1893.0 L1361.7,1893.6 L1363.7,1894.2 L1365.8,1894.7 L1367.8,1895.2 L1369.8,1895.7 L1371.8,1896.2 L1373.9,1896.7 L1375.9,1897.2 L1377.9,1897.6 L1379.9,1898.1 L1382.0,1898.5 L1384.0,1898.9 L1386.0,1899.3 L1388.0,1899.6 L1390.1,1900.0 L1392.1,1900.3 L1394.1,1900.6 L1396.1,1900.9 L1398.2,1901.2 L1400.2,1901.5 L1402.2,1901.8 L1404.2,1902.0 L1406.3,1902.2 L1408.3,1902.4 L1410.3,1902.6 L1412.3,1902.8 L1414.4,1903.0 L1416.4,1903.1 L1418.4,1903.2 L1420.4,1903.3 L1422.5,1903.4 L1424.5,1903.5 L1426.5,1903.6 L1428.5,1903.6 L1430.6,1903.7 L1432.6,1903.7 L1434.6,1903.7 L1436.6,1903.6 L1438.7,1903.6 L1440.7,1903.6 L1442.7,1903.5 L1444.7,1903.4 L1446.8,1903.3 L1448.8,1903.2 L1450.8,1903.1 L1452.8,1902.9 L1454.9,1902.7 L1456.9,1901.7" fill="none" stroke="#ff0000" stroke-width="3.4" stroke-linejoin="round" stroke-linecap="round"/></g>
<g font-family='"Liberation Sans", sans-serif' fill="#000"><text x="1793.0" y="1491.4" text-anchor="middle" font-weight="bold" font-size="25.7">CART fit - Distance</text><path d="M1622.9,1524.2 H1635.2 V1966.5 H1622.9" fill="none" stroke="#000" stroke-width="1.8"/><path d="M1622.9,1612.7 H1635.2" stroke="#000" stroke-width="1.8"/><path d="M1622.9,1701.1 H1635.2" stroke="#000" stroke-width="1.8"/><path d="M1622.9,1789.6 H1635.2" stroke="#000" stroke-width="1.8"/><path d="M1622.9,1878.0 H1635.2" stroke="#000" stroke-width="1.8"/><text transform="translate(1605.6,1966.5) rotate(-90) scale(1,1.16)" text-anchor="middle" font-weight="bold" font-size="20.9">0.0</text><text transform="translate(1605.6,1878.0) rotate(-90) scale(1,1.16)" text-anchor="middle" font-weight="bold" font-size="20.9">0.2</text><text transform="translate(1605.6,1789.6) rotate(-90) scale(1,1.16)" text-anchor="middle" font-weight="bold" font-size="20.9">0.4</text><text transform="translate(1605.6,1701.1) rotate(-90) scale(1,1.16)" text-anchor="middle" font-weight="bold" font-size="20.9">0.6</text><text transform="translate(1605.6,1612.7) rotate(-90) scale(1,1.16)" text-anchor="middle" font-weight="bold" font-size="20.9">0.8</text><text transform="translate(1605.6,1524.2) rotate(-90) scale(1,1.16)" text-anchor="middle" font-weight="bold" font-size="20.9">1.0</text><text transform="translate(1547.5,1923.6) rotate(-90)" font-size="28.6" font-style="italic" textLength="84.8" lengthAdjust="spacing">Culex</text><text transform="translate(1547.5,1830.5) rotate(-90)" font-size="28.6" textLength="267.8" lengthAdjust="spacingAndGlyphs">predicted occurrence</text><path d="M1647.5,1984.5 H1940.2" stroke="#000" stroke-width="1.8" fill="none"/><path d="M1647.5,1984.5 V1997.9" stroke="#000" stroke-width="1.8"/><text x="1646.7" y="2031.1" text-anchor="middle" font-weight="bold" font-size="21.6">0</text><path d="M1706.0,1984.5 V1997.9" stroke="#000" stroke-width="1.8"/><text x="1705.2" y="2031.1" text-anchor="middle" font-weight="bold" font-size="21.6">500</text><path d="M1764.6,1984.5 V1997.9" stroke="#000" stroke-width="1.8"/><path d="M1823.1,1984.5 V1997.9" stroke="#000" stroke-width="1.8"/><text x="1822.3" y="2031.1" text-anchor="middle" font-weight="bold" font-size="21.6">1500</text><path d="M1881.7,1984.5 V1997.9" stroke="#000" stroke-width="1.8"/><path d="M1940.2,1984.5 V1997.9" stroke="#000" stroke-width="1.8"/><text x="1939.4" y="2031.1" text-anchor="middle" font-weight="bold" font-size="21.6">2500</text><text x="1794.4" y="2082.3" text-anchor="middle" font-size="29.1">Distance (m)</text><path d="M1656.0,1524.2 H1910.5" stroke="#000" stroke-width="9.5" stroke-linecap="round"/><ellipse cx="1692.6" cy="1524.2" rx="0.6" ry="1.7" fill="#fff"/><ellipse cx="1729.9" cy="1524.2" rx="0.6" ry="1.7" fill="#fff"/><ellipse cx="1732.7" cy="1524.2" rx="0.6" ry="1.7" fill="#fff"/><ellipse cx="1764.6" cy="1524.2" rx="0.6" ry="1.7" fill="#fff"/><ellipse cx="1784.6" cy="1524.2" rx="0.6" ry="1.7" fill="#fff"/><ellipse cx="1843.2" cy="1524.2" rx="0.6" ry="1.7" fill="#fff"/><ellipse cx="1855.2" cy="1524.2" rx="0.6" ry="1.7" fill="#fff"/><ellipse cx="1868.5" cy="1524.2" rx="0.6" ry="1.7" fill="#fff"/><ellipse cx="1879.2" cy="1524.2" rx="0.6" ry="1.7" fill="#fff"/><ellipse cx="1903.2" cy="1524.2" rx="0.6" ry="1.7" fill="#fff"/><ellipse cx="1907.2" cy="1524.2" rx="0.6" ry="1.7" fill="#fff"/><ellipse cx="1655.5" cy="1524.2" rx="0.7" ry="3.3" fill="#fff"/><ellipse cx="1751.7" cy="1524.2" rx="0.7" ry="3.3" fill="#fff"/><ellipse cx="1797.9" cy="1524.2" rx="0.7" ry="3.3" fill="#fff"/><ellipse cx="1890.5" cy="1524.2" rx="0.7" ry="3.3" fill="#fff"/><ellipse cx="1911.5" cy="1524.2" rx="0.7" ry="3.3" fill="#fff"/><path d="M1656.0,1966.5 H1913.0" stroke="#000" stroke-width="9.5" stroke-linecap="round"/><ellipse cx="1733.6" cy="1966.5" rx="0.6" ry="1.7" fill="#fff"/><ellipse cx="1748.8" cy="1966.5" rx="0.6" ry="1.7" fill="#fff"/><ellipse cx="1765.0" cy="1966.5" rx="0.6" ry="1.7" fill="#fff"/><ellipse cx="1785.2" cy="1966.5" rx="0.6" ry="1.7" fill="#fff"/><ellipse cx="1842.9" cy="1966.5" rx="0.6" ry="1.7" fill="#fff"/><ellipse cx="1854.1" cy="1966.5" rx="0.6" ry="1.7" fill="#fff"/><ellipse cx="1887.2" cy="1966.5" rx="0.6" ry="1.7" fill="#fff"/><ellipse cx="1893.2" cy="1966.5" rx="0.6" ry="1.7" fill="#fff"/><ellipse cx="1899.2" cy="1966.5" rx="0.6" ry="1.7" fill="#fff"/><ellipse cx="1904.7" cy="1966.5" rx="0.6" ry="1.7" fill="#fff"/><ellipse cx="1654.8" cy="1966.5" rx="0.7" ry="3.3" fill="#fff"/><ellipse cx="1869.3" cy="1966.5" rx="0.7" ry="3.3" fill="#fff"/><ellipse cx="1914.1" cy="1966.5" rx="0.7" ry="3.3" fill="#fff"/><path d="M1657.2,1794.6 L1659.2,1797.0 L1661.2,1799.2 L1663.2,1801.4 L1665.3,1803.5 L1667.3,1805.7 L1669.3,1807.8 L1671.3,1809.9 L1673.3,1812.0 L1675.3,1814.1 L1677.4,1816.2 L1679.4,1818.2 L1681.4,1820.3 L1683.4,1822.3 L1685.4,1824.3 L1687.4,1826.3 L1689.5,1828.2 L1691.5,1830.2 L1693.5,1832.1 L1695.5,1834.0 L1697.5,1835.9 L1699.5,1837.8 L1701.6,1839.6 L1703.6,1841.4 L1705.6,1843.3 L1707.6,1845.1 L1709.6,1846.8 L1711.6,1848.6 L1713.7,1850.3 L1715.7,1852.1 L1717.7,1853.8 L1719.7,1855.5 L1721.7,1857.1 L1723.7,1858.8 L1725.8,1860.4 L1727.8,1862.0 L1729.8,1863.6 L1731.8,1865.2 L1733.8,1866.8 L1735.8,1868.3 L1737.9,1869.8 L1739.9,1871.3 L1741.9,1872.8 L1743.9,1874.3 L1745.9,1875.7 L1747.9,1877.1 L1750.0,1878.5 L1752.0,1879.9 L1754.0,1881.3 L1756.0,1882.6 L1758.0,1884.0 L1760.0,1885.3 L1762.1,1886.6 L1764.1,1887.8 L1766.1,1889.1 L1768.1,1890.3 L1770.1,1891.5 L1772.1,1892.7 L1774.2,1893.9 L1776.2,1895.0 L1778.2,1896.2 L1780.2,1897.3 L1782.2,1898.4 L1784.2,1899.5 L1786.3,1900.5 L1788.3,1901.6 L1790.3,1902.6 L1792.3,1903.6 L1794.3,1904.5 L1796.3,1905.5 L1798.3,1906.4 L1800.4,1907.3 L1802.4,1908.2 L1804.4,1909.1 L1806.4,1910.0 L1808.4,1910.8 L1810.4,1911.6 L1812.5,1912.4 L1814.5,1913.2 L1816.5,1913.9 L1818.5,1914.7 L1820.5,1915.4 L1822.5,1916.1 L1824.6,1916.7 L1826.6,1917.4 L1828.6,1918.0 L1830.6,1918.6 L1832.6,1919.2 L1834.6,1919.8 L1836.7,1920.3 L1838.7,1920.8 L1840.7,1921.3 L1842.7,1921.8 L1844.7,1922.3 L1846.7,1922.7 L1848.8,1923.1 L1850.8,1923.5 L1852.8,1923.9 L1854.8,1924.3 L1856.8,1924.6 L1858.8,1924.9 L1860.9,1925.2 L1862.9,1925.5 L1864.9,1925.7 L1866.9,1925.9 L1868.9,1926.1 L1870.9,1926.3 L1873.0,1926.5 L1875.0,1926.6 L1877.0,1926.7 L1879.0,1926.8 L1881.0,1926.9 L1883.0,1926.9 L1885.1,1927.0 L1887.1,1927.0 L1889.1,1927.0 L1891.1,1926.9 L1893.1,1926.9 L1895.1,1926.8 L1897.2,1926.7 L1899.2,1926.6 L1901.2,1926.4 L1903.2,1926.2 L1905.2,1926.1 L1907.2,1925.8 L1909.3,1925.6 L1911.3,1925.3 L1913.3,1925.1 L1915.3,1924.8 L1917.3,1924.4 L1919.3,1924.1 L1921.4,1923.7 L1923.4,1923.3 L1925.4,1922.9 L1927.4,1922.5 L1929.4,1922.0 L1931.4,1921.5 L1933.5,1921.0 L1935.5,1920.5 L1937.5,1919.9 L1939.5,1919.8" fill="none" stroke="#0000ff" stroke-width="3.4" stroke-linejoin="round" stroke-linecap="round"/></g>
</svg>
</body></html>
